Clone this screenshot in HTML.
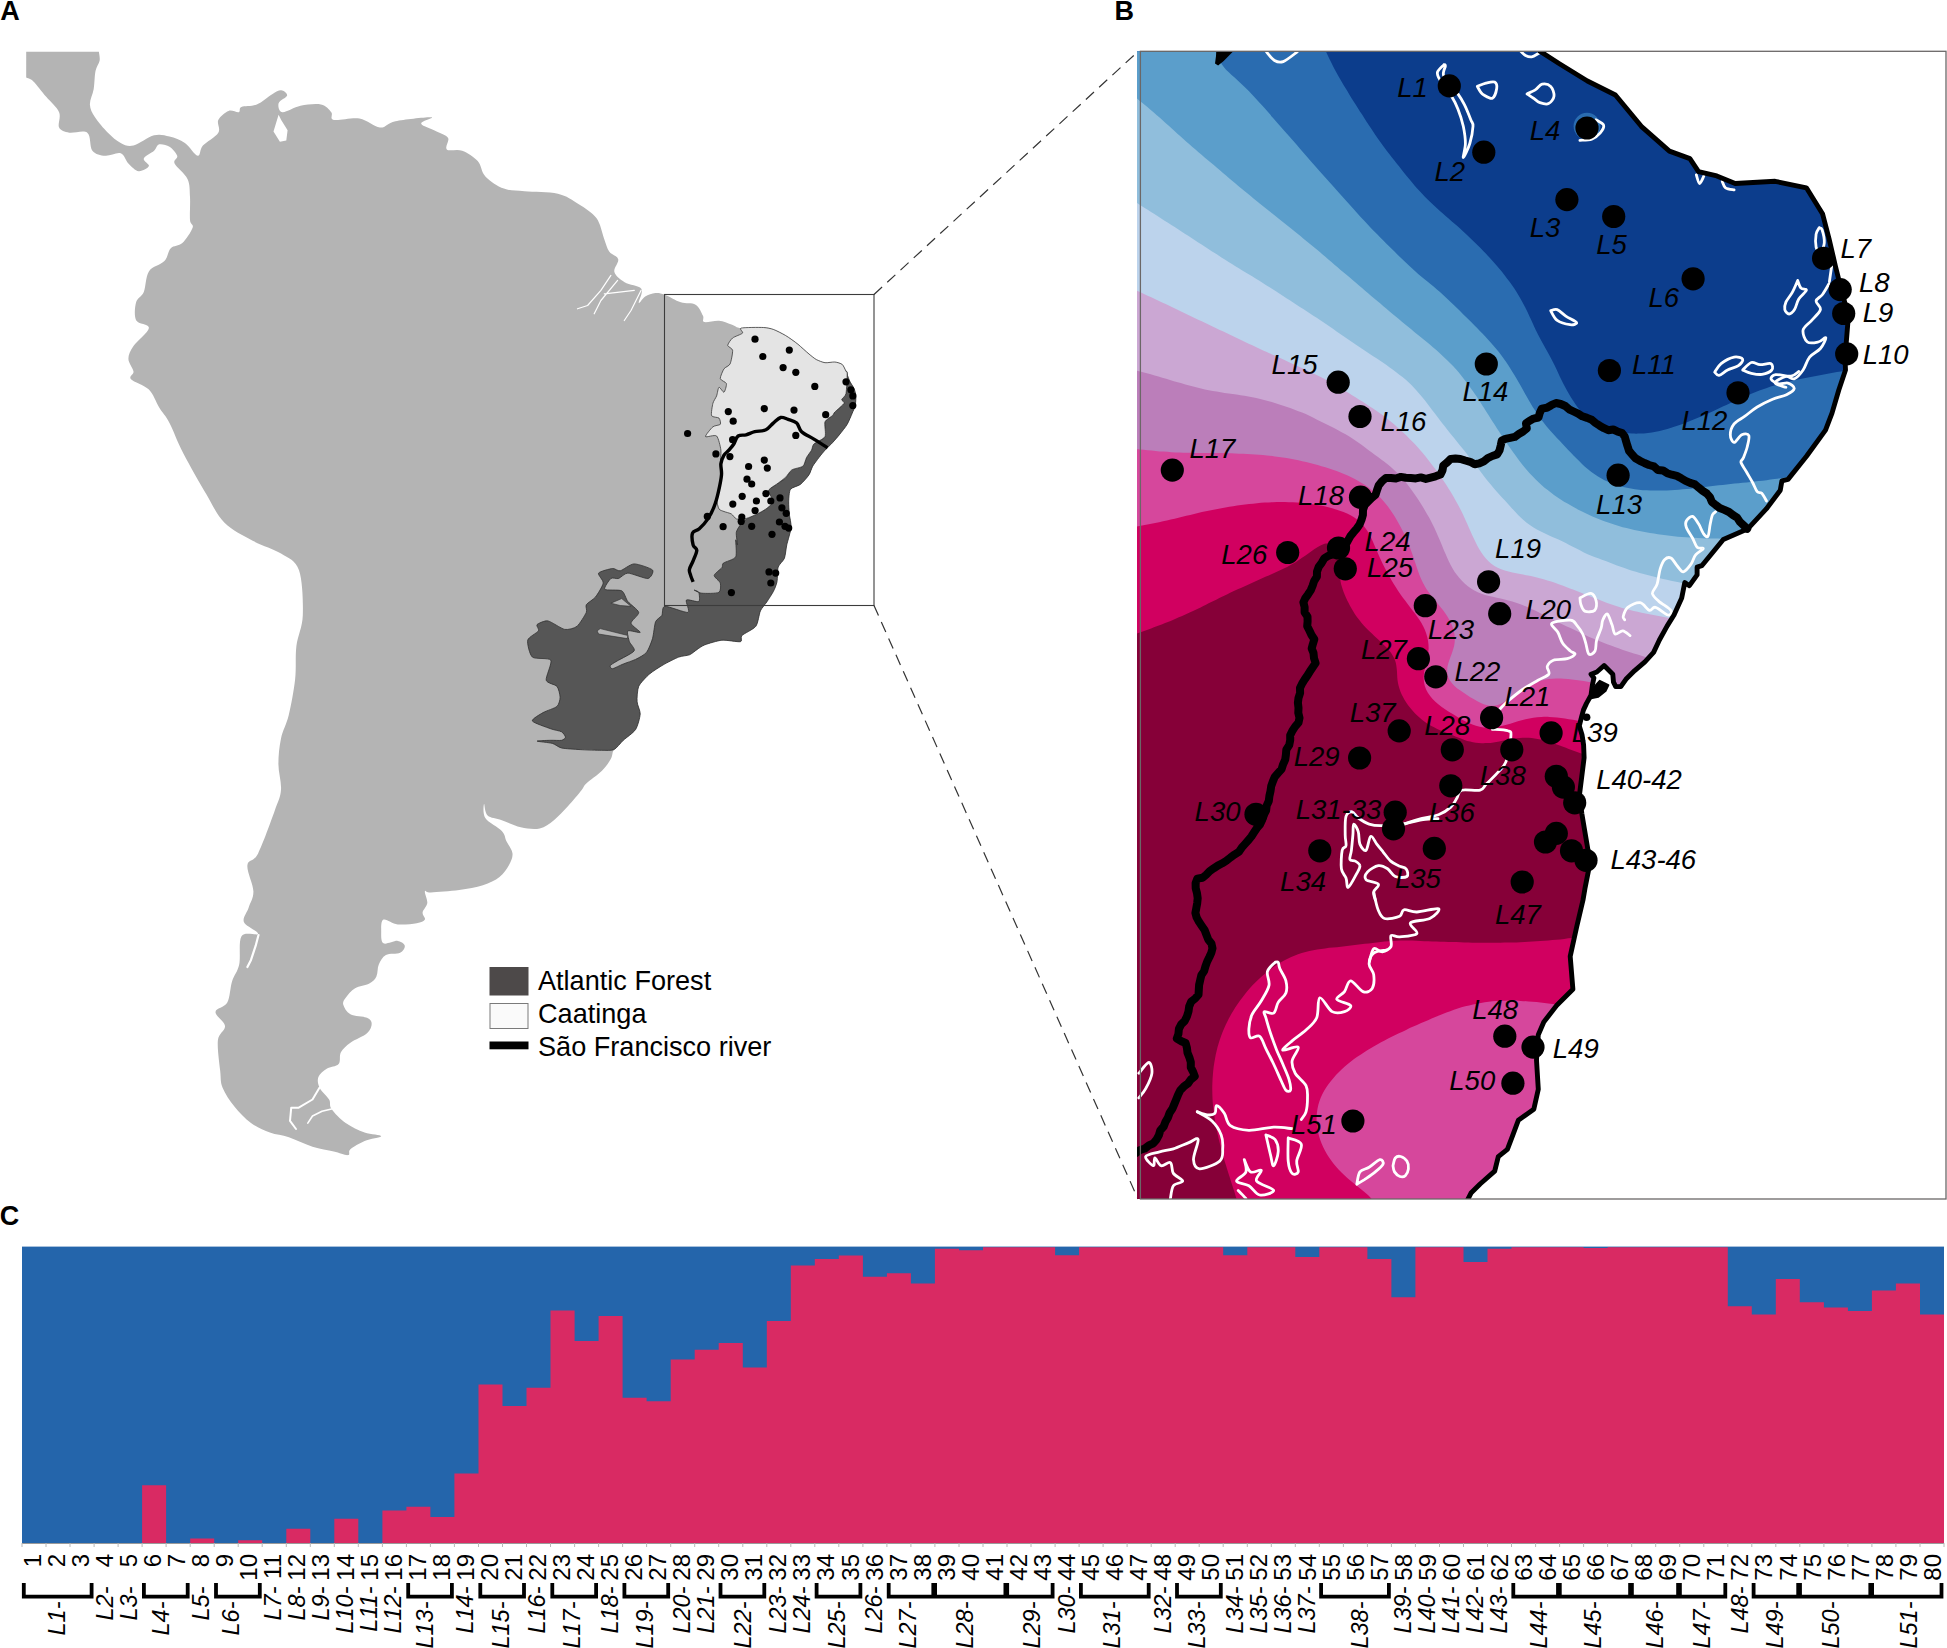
<!DOCTYPE html>
<html lang="en"><head><meta charset="utf-8"><title>Figure</title>
<style>html,body{margin:0;padding:0;background:#fff}body{width:1947px;height:1648px;overflow:hidden}svg{display:block}
text{font-family:"Liberation Sans",Arial,sans-serif;fill:#000}.it{font-style:italic}.b{font-weight:bold}</style></head><body>
<svg width="1947" height="1648" viewBox="0 0 1947 1648">
<rect width="1947" height="1648" fill="#fff"/>
<g id="panelA">
<path d="M98.9 51.8 C99 53.3 100.2 57.6 99.6 60.8 C99 64 96.5 66.4 95.5 71.1 C94.5 75.8 94.6 83.5 93.7 89.1 C92.8 94.7 89.7 99.8 89.9 104.5 C90.1 109.2 92 112.6 95 117.3 C98 122 103.6 128.4 107.9 132.7 C112.2 137 116.4 140.8 120.7 143 C125 145.2 127.9 146.9 133.5 145.6 C139.1 144.3 148.1 136.8 154.1 135.3 C160.1 133.8 164.4 135.3 169.5 136.6 C174.6 137.9 180.2 139.8 184.9 143 C189.6 146.2 194.7 155.4 197.7 155.8 C200.7 156.2 199.5 149.4 202.9 145.6 C206.3 141.8 215.7 137 218.3 132.7 C220.9 128.4 216.6 123.5 218.3 119.9 C220 116.3 225.2 112.2 228.6 110.9 C232 109.6 236.7 112.9 238.8 112.2 C240.9 111.5 238.4 108.3 241.4 107 C244.4 105.7 251.7 106.6 256.8 104.5 C261.9 102.4 268.1 96.6 272.2 94.2 C276.3 91.8 278.7 90.1 281.2 90.3 C283.7 90.5 287.5 93.3 287.1 95.5 C286.7 97.7 279.4 100.4 278.6 103.2 C277.8 106 278.9 111.8 282.5 112.2 C286.1 112.6 294.1 107.1 300.5 105.8 C306.9 104.5 315.9 103.4 321 104.5 C326.1 105.6 329.2 109.6 331.3 112.2 C333.4 114.8 329.1 118.8 333.8 119.9 C338.5 121 351.8 117.3 359.5 118.6 C367.2 119.9 374 127.2 380 127.6 C386 128 386.9 122.9 395.5 121.2 C404.1 119.5 427.1 116.9 431.4 117.3 C435.7 117.7 420.3 121.3 421.2 123.7 C422.1 126.1 432.1 129 436.6 131.4 C441.1 133.8 446.4 134.9 448.1 137.9 C449.8 140.9 444.5 147.3 446.8 149.4 C449.1 151.5 457.1 148.8 462.2 150.7 C467.3 152.6 473.8 156.7 477.7 161 C481.6 165.3 481 171.8 485.4 176.4 C489.8 181 497.4 186.1 503.9 188.6 C510.4 191.1 515.5 190.3 524.5 191.2 C533.5 192 548.9 191.6 557.9 193.7 C566.9 195.8 572 199.9 578.4 204 C584.8 208.1 592.1 212.3 596.4 218.1 C600.7 223.9 602 233.1 604.1 238.7 C606.2 244.3 606.9 248.1 609.2 251.5 C611.6 254.9 617.3 255.8 618.2 259.2 C619.1 262.6 613.3 268.2 614.4 272.1 C615.5 276 620.1 279.5 624.6 282.3 C629.1 285.1 638.9 285.4 641.3 288.8 C643.7 292.2 638.1 301.6 638.8 302.9 C639.4 304.2 642.4 298.1 645.2 296.5 C648 294.9 652.1 293.4 655.4 293.1 C658.6 292.8 660.5 293.2 664.7 294.7 C668.9 296.2 675.6 300.6 680.8 302.3 C685.9 304 691.9 302.4 695.6 304.7 C699.3 306.9 701.6 312.9 703 315.8 C704.4 318.7 701.5 321.2 704.2 322 C706.9 322.8 714.5 320.3 719 320.7 C723.5 321.1 727.7 323.2 731.4 324.4 C735.1 325.6 735.9 327.6 741.2 328.1 C746.5 328.6 758 327.3 763.4 327.5 C768.8 327.7 769.6 328.1 773.3 329.4 C777 330.7 781.5 333 785.6 335.5 C789.7 338 794 341.1 797.9 344.2 C801.8 347.3 805.9 351.4 809 354 C812.1 356.6 813.7 358.2 816.4 359.6 C819.1 361.1 821.9 362.3 825 362.7 C828.1 363.1 832 361.7 834.9 362 C837.8 362.3 840.4 362.9 842.3 364.5 C844.1 366.1 844.8 368.5 846 371.3 C847.2 374.1 848.4 378.2 849.7 381.1 C851 384 853 386 854 388.5 C855 391 855.7 393 855.9 395.9 C856.1 398.8 855.8 402.9 855.2 405.8 C854.6 408.7 853.5 410.1 852.2 413.2 C850.9 416.3 849.3 420.8 847.2 424.3 C845.1 427.8 842.3 431.1 839.8 434.2 C837.3 437.3 834.9 440.1 832.4 442.8 C829.9 445.5 827.2 447.7 825 450.2 C822.8 452.7 820.9 454.9 818.9 457.6 C816.9 460.3 814.4 463.3 812.7 466.2 C811.1 469.1 811 471.8 809 474.8 C807 477.8 803.5 482 800.4 484.4 C797.3 486.8 792.5 486.4 790.5 489.3 C788.5 492.2 788.9 497.5 788.7 501.6 C788.5 505.7 788.9 509.7 789.3 514 C789.7 518.3 791.5 522.4 791.1 527.5 C790.7 532.6 787.9 539.7 786.8 544.8 C785.7 549.9 785.8 554.6 784.4 558.3 C783 562 779.4 563.1 778.2 567 C777 570.9 777.8 577.7 777 581.8 C776.2 585.9 774.9 588.3 773.3 591.6 C771.6 594.9 769.2 598.3 767.1 601.5 C765 604.7 762.3 606.8 760.4 610.9 C758.5 615 758.9 622.2 755.8 626.3 C752.7 630.4 744.5 632.9 741.9 635.5 C739.3 638.1 743.7 640.9 740.4 641.7 C737.1 642.5 727.8 639.7 721.9 640.2 C716 640.7 709 643.3 704.9 644.8 C700.8 646.3 699.8 647.7 697.2 649.4 C694.6 651.1 692.6 653.5 689.5 654.8 C686.4 656.1 683.1 655.4 678.7 657.1 C674.3 658.8 668.2 662 663.3 664.8 C658.4 667.6 653.6 670.4 649.5 674 C645.4 677.6 640.8 681.8 638.7 686.4 C636.6 691 636.9 697.2 637.1 701.8 C637.4 706.4 640.5 709.5 640.2 714.1 C640 718.7 638.4 725.1 635.6 729.5 C632.8 733.9 626.9 736.9 623.3 740.3 C619.7 743.6 616.1 746.5 614 749.6 C611.9 752.7 612.9 755.2 610.9 758.8 C608.9 762.4 605.8 767 601.7 771.1 C597.6 775.2 589.6 780.4 586.3 783.5 C583 786.6 584.7 786.2 581.7 790 C578.7 793.8 572.7 801 568.1 806 C563.5 811 558.6 816.5 553.9 820.2 C549.2 824 545.2 827.3 539.7 828.5 C534.2 829.7 527.1 828.7 520.8 827.3 C514.5 825.9 507.3 822.2 501.8 820.2 C496.3 818.2 490.6 818.2 487.6 815.5 C484.7 812.8 484.5 803.3 484.1 803.7 C483.7 804.1 482.4 813.4 485.3 817.9 C488.2 822.4 498.2 827 501.8 830.9 C505.4 834.8 504.8 837.8 506.6 841.5 C508.4 845.2 512.1 849.4 512.5 853.4 C512.9 857.4 511.1 861.3 508.9 865.2 C506.7 869.1 503.8 873.6 499.5 877 C495.2 880.4 489.6 883.1 482.9 885.3 C476.2 887.5 467.9 888.8 459.2 890 C450.5 891.2 436.6 892.2 430.9 892.4 C425.2 892.6 425.5 889.4 424.9 891.2 C424.3 893 427.7 899.6 427.3 903.1 C426.9 906.6 423 909.8 422.6 912.5 C422.2 915.2 425.9 917.8 424.9 919.6 C423.9 921.4 421.2 922.4 416.7 923.2 C412.2 924 403.2 925 397.7 924.4 C392.2 923.8 386.2 918.4 383.5 919.6 C380.8 920.8 381.2 927.5 381.2 931.5 C381.2 935.5 380.8 941.7 383.5 943.3 C386.2 944.9 394.1 940.5 397.7 940.9 C401.2 941.3 404.4 943.7 404.8 945.7 C405.2 947.7 403.2 951.2 400.1 952.8 C397 954.4 389.4 953.1 385.9 955.1 C382.3 957.1 380.4 961.1 378.8 964.6 C377.2 968.1 378 973.2 376.4 976.4 C374.8 979.5 372.9 981.5 369.3 983.5 C365.8 985.5 359 985.9 355.1 988.3 C351.2 990.7 347.7 995 345.7 997.7 C343.7 1000.5 342.5 1002 343.3 1004.8 C344.1 1007.6 346.4 1012.1 350.4 1014.3 C354.3 1016.5 363.4 1016.2 367 1017.8 C370.6 1019.4 371.7 1021.2 371.7 1023.8 C371.7 1026.4 370.6 1030 367 1033.2 C363.4 1036.4 354.8 1039.5 350.4 1042.7 C346 1045.9 342.9 1048.7 340.9 1052.2 C338.9 1055.8 341 1061.2 338.6 1064 C336.2 1066.8 330.1 1066.5 326.7 1068.7 C323.3 1070.9 319.6 1073.8 318.4 1077 C317.2 1080.2 317.8 1084 319.6 1087.7 C321.4 1091.5 327.1 1096 329.1 1099.5 C331.1 1103 328.7 1105.1 331.5 1109 C334.3 1112.9 340.2 1119.2 345.7 1123.1 C351.2 1127 358.7 1130.4 364.6 1132.6 C370.5 1134.8 381.2 1134.8 381.2 1136.2 C381.2 1137.6 369.7 1138.7 364.6 1140.9 C359.5 1143.1 353.2 1146.8 350.4 1149.2 C347.6 1151.6 350.8 1154.7 348 1155.1 C345.2 1155.5 339.7 1152.9 333.8 1151.5 C327.9 1150.1 320 1149.2 312.5 1146.8 C305 1144.4 296 1139.7 288.9 1137.3 C281.8 1134.9 276.2 1135 269.9 1132.6 C263.6 1130.2 256.9 1127.4 251 1123.1 C245.1 1118.8 239.1 1112.5 234.4 1106.6 C229.7 1100.7 225 1093.6 222.6 1087.7 C220.2 1081.8 221 1079 220.2 1071.1 C219.4 1063.2 217.1 1047.8 217.9 1040.3 C218.7 1032.8 225.4 1030.8 225 1026.1 C224.6 1021.4 215.1 1015.8 215.5 1011.9 C215.9 1008 224.5 1007.6 227.3 1002.5 C230.1 997.4 230.1 987.5 232.1 981.2 C234.1 974.9 237.6 972.1 239.2 964.6 C240.8 957.1 238.3 941.3 241.5 936.2 C244.7 931.1 257.7 936.2 258.1 933.8 C258.5 931.4 245.5 926.3 243.9 922 C242.3 917.7 247 912.9 248.6 907.8 C250.2 902.7 253.6 898.3 253.4 891.2 C253.2 884.1 246.6 871.5 247.4 865.2 C248.2 858.9 253.6 862.5 258.1 853.4 C262.7 844.3 270.9 821.4 274.7 810.8 C278.5 800.2 280.4 797.6 281 789.8 C281.6 782 278.4 772.7 278.4 764.1 C278.4 755.5 279.3 746.5 281 738.4 C282.7 730.3 286.3 725.1 288.7 715.3 C291.1 705.5 293.8 690.9 295.1 679.4 C296.4 667.9 295.1 656.7 296.4 646 C297.7 635.3 302.4 627.8 302.8 615.2 C303.2 602.6 302.6 580.5 299 570.2 C295.4 559.9 288.7 558.4 281 553.5 C273.3 548.6 262.1 545.8 252.7 540.7 C243.3 535.6 232.2 530.4 224.5 522.7 C216.8 515 213.3 506.1 206.5 494.5 C199.7 482.9 189.6 465.3 183.4 453.4 C177.2 441.5 173.5 430.5 169.5 422.9 C165.5 415.2 162.6 413.1 159.2 407.5 C155.8 401.9 153.6 394.2 148.9 389.5 C144.2 384.8 133.6 382.2 131 379.2 C128.4 376.2 133.9 374.9 133.5 371.5 C133.1 368.1 128.4 363 128.4 358.7 C128.4 354.4 130.1 351 133.5 345.9 C136.9 340.8 148.5 332.2 148.9 327.9 C149.3 323.6 138.2 324.5 136.1 320.2 C134 315.9 134.8 306.9 136.1 302.2 C137.4 297.5 141.7 297 143.8 291.9 C145.9 286.8 145.5 276.5 148.9 271.4 C152.3 266.3 160.8 265 164.4 261.1 C168.1 257.2 167.8 251.3 170.8 248.3 C173.8 245.3 178.7 246.5 182.3 243.1 C185.9 239.7 191.3 231.5 192.6 227.7 C193.9 223.8 190.4 225.1 190 220 C189.6 214.9 190.4 203.8 190 196.9 C189.6 190.1 190.1 184.5 187.5 178.9 C184.9 173.3 176.3 167.3 174.6 163.5 C172.9 159.7 178 158.6 177.2 155.8 C176.3 153 172.5 148.7 169.5 146.8 C166.5 144.9 161.8 143.7 159.2 144.3 C156.6 145 156.7 148.3 154.1 150.7 C151.5 153 144.7 155.8 143.8 158.4 C142.9 161 149.8 164 148.9 166.1 C148.1 168.2 142.1 171.6 138.7 171.2 C135.3 170.8 131.4 166.5 128.4 163.5 C125.4 160.5 124.6 154.6 120.7 153.3 C116.8 152 110 156.2 105.3 155.8 C100.6 155.4 95.4 154.5 92.4 150.7 C89.4 146.8 91.2 135.7 87.3 132.7 C83.4 129.7 74 133.5 69.3 132.7 C64.6 131.8 60.8 131 59.1 127.6 C57.4 124.2 61.2 117.3 59.1 112.2 C57 107.1 50.5 101.9 46.2 96.8 C41.9 91.7 36.7 84.6 33.4 81.4 C30.1 78.2 27.4 78.2 26.2 77.5 L26.2 51.8Z" fill="#b4b4b4"/>
<path d="M278.6 114.7 L273.5 131.4 L279.9 141.7 L286.3 140.4 L287.6 130.2 L281.2 119.9Z" fill="#fff"/>
<g fill="none" stroke="#fff" stroke-linecap="round" stroke-linejoin="round"><path d="M319.6 1087.6 L312.5 1099.5 L298.3 1107.8 L291.2 1107.8 L290 1120.8 L296 1129" stroke-width="2"/><path d="M331.5 1109 L322 1111.3 L312.5 1116 L307.8 1123.1" stroke-width="1.6"/><path d="M258.5 935 L255.7 945.7 L251 959.9 L247.4 967" stroke-width="2.2"/><path d="M610.9 275.4 L600.9 290.4 L587.6 305.5 L577.5 308.8 M617.6 280.4 L600.9 300.5 L594.2 313.8 M641 290.4 L631 310.5 L624.3 320.5 M604.3 293.8 L634.3 290.4" stroke-width="1.2"/></g>
<path d="M846 371.3 C846.3 372.2 848.8 379.1 849.7 381.1 C850.6 383.1 853.3 386.8 854 388.5 C854.7 390.2 855.8 393.9 855.9 395.9 C856 397.9 855.6 403.8 855.2 405.8 C854.8 407.8 853.1 411 852.2 413.2 C851.3 415.4 848.6 421.9 847.2 424.3 C845.8 426.8 841.5 432 839.8 434.2 C838.1 436.4 834.1 440.9 832.4 442.8 C830.7 444.7 826.6 448.5 825 450.2 C823.4 451.9 820.3 455.7 818.9 457.6 C817.5 459.5 813.9 464.2 812.7 466.2 C811.5 468.2 810.4 472.7 809 474.8 C807.6 476.9 802.6 482.7 800.4 484.4 C798.2 486.1 791.9 487.3 790.5 489.3 C789.1 491.3 788.8 498.7 788.7 501.6 C788.6 504.5 789 511 789.3 514 C789.6 517 791.4 523.9 791.1 527.5 C790.8 531.1 787.6 541.2 786.8 544.8 C786 548.4 785.4 555.7 784.4 558.3 C783.4 560.9 779.1 564.3 778.2 567 C777.3 569.7 777.6 578.9 777 581.8 C776.4 584.7 774.5 589.3 773.3 591.6 C772.1 593.9 768.6 599.2 767.1 601.5 C765.6 603.8 761.7 608 760.4 610.9 C759.1 613.8 758 623.4 755.8 626.3 C753.6 629.2 743.7 633.7 741.9 635.5 C740.1 637.3 742.7 641.2 740.4 641.7 C738.1 642.2 726 639.8 721.9 640.2 C717.8 640.6 707.8 643.7 704.9 644.8 C702 645.9 699 648.2 697.2 649.4 C695.4 650.6 691.7 653.9 689.5 654.8 C687.3 655.7 681.8 655.9 678.7 657.1 C675.6 658.3 666.7 662.8 663.3 664.8 C659.9 666.8 652.4 671.5 649.5 674 C646.6 676.5 640.1 683.2 638.7 686.4 C637.3 689.6 636.9 698.6 637.1 701.8 C637.3 705 640.4 710.9 640.2 714.1 C640 717.3 637.6 726.4 635.6 729.5 C633.6 732.6 625.8 738 623.3 740.3 C620.8 742.6 616.5 748.4 614 749.6 C611.5 750.8 605.7 750.3 601.7 750.3 C597.7 750.3 584.8 749.9 580.1 749.6 C575.4 749.3 564.8 748.7 561.6 748 C558.4 747.3 555.3 744.2 552.4 743.4 C549.5 742.6 537.2 741.5 537 741.1 C536.8 740.7 547.9 740.4 550.8 740.3 C553.7 740.2 559.9 740.7 561.6 740.3 C563.3 739.9 565.5 738.2 565.5 737.2 C565.5 736.2 563.3 732.8 561.6 731.8 C559.9 730.8 554.2 730.1 550.8 728.8 C547.4 727.5 533.3 722.9 532.4 721 C531.5 719.1 540.2 714.3 543.1 712.6 C546 710.9 555 708.2 557 706.4 C559 704.6 560.1 699.5 560.1 697.2 C560.1 694.9 558.6 688.4 557 686.4 C555.4 684.4 546.9 683.3 546.2 680.2 C545.5 677.1 552.4 662.9 550.8 660.2 C549.2 657.5 535.1 659.4 532.4 657.1 C529.7 654.8 527 643.3 527.7 640.2 C528.4 637.1 537.4 632.7 538.5 630.9 C539.6 629.1 535.9 625.9 537 624.7 C538.1 623.5 544.6 620.4 547.8 620.9 C551 621.4 561.3 628.8 564.7 629.4 C568.1 630 574.5 628.3 577 626.3 C579.5 624.3 585.2 614.9 586.3 612.4 C587.4 609.9 585.2 606.5 586.3 604.7 C587.4 602.9 593.5 599.5 595.5 597 C597.5 594.5 602.8 585.9 603.2 583.1 C603.6 580.3 597.5 574.8 598.6 573.1 C599.7 571.4 610 568.8 612.5 568.5 C615 568.2 617.7 571.3 620.2 570.8 C622.7 570.3 630.3 564 634.1 563.9 C637.9 563.8 650.9 568.3 652.5 570 C654.1 571.7 650.8 578.1 647.9 578.5 C645 578.9 631.3 573.1 627.9 573.1 C624.5 573.1 620.6 577.9 618.6 578.5 C616.6 579.1 612.5 577.2 610.9 578.5 C609.3 579.8 603.5 587.9 604.8 589.3 C606.1 590.7 619 589.4 621.7 590.8 C624.4 592.2 625.9 599.1 627.9 601.6 C629.9 604.1 638.3 609.9 638.7 612.4 C639.1 614.9 630.8 620.9 631 623.2 C631.2 625.5 640.6 631.5 640.2 632.4 C639.8 633.3 629.2 629.8 627.9 630.9 C626.6 632 628.7 639.4 629.4 641.7 C630.1 644 635.5 648.6 634.1 650.9 C632.7 653.2 619.9 659.3 617.1 661 C614.3 662.7 610.7 664.7 610.2 665.6 C609.7 666.5 611 668.9 612.5 668.7 C614 668.5 620.6 665.1 623.3 664 C626 662.9 632.9 660.7 635.6 659.4 C638.3 658.1 644.4 654.9 646.4 652.5 C648.4 650.1 651.4 642.2 652.5 638.6 C653.6 635 654.5 624.4 655.6 621.7 C656.7 619 660.7 617.3 661.8 615.5 C662.9 613.7 661.8 606.7 664.9 606.3 C668 605.9 685.5 613.1 688 612.4 C690.5 611.7 685.1 601.4 686.4 600.1 C687.7 598.8 697.4 602.5 698.8 601.6 C700.2 600.7 699.3 593.7 698.8 592.4 C698.3 591.1 693.8 590 694.1 590.1 C694.5 590.2 698.9 592.9 701.8 593.2 C704.7 593.5 716.6 593.6 718.8 592.4 C721 591.2 720.8 585.1 720.3 583.1 C719.8 581.1 714 577.2 714.2 575.4 C714.4 573.6 720.8 569.1 721.9 567.7 C723 566.3 721.8 564.4 723.4 563.1 C725 561.8 734.3 559.6 735.7 556.9 C737.1 554.2 735.5 541.4 735.7 540 C735.9 538.6 737.4 545.7 737.5 544.8 C737.6 543.9 735.9 534.9 736.3 532.4 C736.7 529.9 739.8 525.5 741.2 523.8 C742.6 522.1 746.7 518.8 748.6 517.7 C750.5 516.6 755.2 515 757.2 514 C759.2 513 764 510.4 765.9 509 C767.8 507.6 773 503.6 773.3 501.6 C773.6 499.6 768.6 493.4 768.3 491.8 C768 490.2 769.6 489.1 770.8 488.1 C772 487.1 776.5 484.3 778.2 483.1 C779.9 481.9 784 479.7 785.6 478.2 C787.2 476.7 789.8 471.3 791.8 469.9 C793.8 468.5 801.2 467.6 802.9 466.2 C804.6 464.8 805.5 459.5 806.5 457.6 C807.5 455.7 810.6 451.8 811.5 450.2 C812.4 448.6 812.3 445.6 813.9 444 C815.5 442.4 823.7 439.2 825 436.6 C826.3 434 824.1 424.2 825 421.8 C825.9 419.4 831.2 416.8 832.4 415.7 C833.6 414.6 833.5 413.4 834.9 412 C836.3 410.6 843.3 404.7 844.1 403.3 C844.9 401.9 841.5 400.7 841.7 399.6 C841.9 398.5 845.4 396.5 846 393.5 C846.6 390.5 847.2 376.4 847.2 373.8 C847.2 371.2 845.7 370.4 846 371.3Z" fill="#565656" stroke="#2e2e2e" stroke-width="0.8" stroke-linejoin="round"/>
<path d="M610.9 603.2 L621.7 598.6 L631 606.3 L620.2 605.5Z" fill="#b4b4b4" stroke="#2e2e2e" stroke-width="0.6"/>
<path d="M597.1 630.9 L600.2 628.6 L627.9 635.5 L627.1 638.6 L598.6 634Z" fill="#b4b4b4" stroke="#2e2e2e" stroke-width="0.6"/>
<path d="M741.2 328.1 C743.6 327.4 759.7 327.3 763.4 327.5 C767.1 327.7 770.7 328.5 773.3 329.4 C775.9 330.3 782.7 333.8 785.6 335.5 C788.5 337.2 795.2 342 797.9 344.2 C800.6 346.4 806.8 352.2 809 354 C811.2 355.8 814.5 358.6 816.4 359.6 C818.3 360.6 822.8 362.4 825 362.7 C827.2 363 832.9 361.8 834.9 362 C836.9 362.2 841 363.4 842.3 364.5 C843.6 365.6 845.4 370.2 846 371.3 C846.6 372.4 847.2 371.2 847.2 373.8 C847.2 376.4 846.6 390.5 846 393.5 C845.4 396.5 841.9 398.5 841.7 399.6 C841.5 400.7 844.9 401.9 844.1 403.3 C843.3 404.7 836.3 410.6 834.9 412 C833.5 413.4 833.6 414.6 832.4 415.7 C831.2 416.8 825.9 419.4 825 421.8 C824.1 424.2 826.3 434 825 436.6 C823.7 439.2 815.5 442.4 813.9 444 C812.3 445.6 812.4 448.6 811.5 450.2 C810.6 451.8 807.5 455.7 806.5 457.6 C805.5 459.5 804.6 464.8 802.9 466.2 C801.2 467.6 793.8 468.6 791.8 469.9 C789.8 471.2 787.2 475.8 785.6 477.3 C784 478.8 779.9 481.8 778.2 483.1 C776.5 484.4 772 487.1 770.8 488.1 C769.6 489.1 768 490.2 768.3 491.8 C768.6 493.4 773.6 499.6 773.3 501.6 C773 503.6 767.8 507.6 765.9 509 C764 510.4 759.2 513 757.2 514 C755.2 515 750.2 517.1 748.6 517.7 C747 518.3 745.1 518.8 743.7 518.9 C742.3 519 737.7 519.5 736.3 518.9 C734.9 518.3 732.8 514.9 731.4 514 C730 513.1 725.4 512.1 724 511.5 C722.6 510.9 719.9 510.4 719 509 C718.1 507.6 716.6 501.2 716.6 499.2 C716.6 497.2 718.4 494.2 719 491.8 C719.6 489.4 721.3 481.4 721.5 478.2 C721.7 475 720.4 468 720.3 464.7 C720.2 461.4 721.3 453.5 720.9 450.2 C720.5 446.9 718.4 437.6 716.6 436 C714.8 434.4 705.9 437.7 705.5 436.6 C705.1 435.5 711.2 428.2 712.9 426.8 C714.6 425.4 719.6 425.3 720.3 424.3 C721 423.3 720 419.1 719 418.1 C718 417.1 712.3 417.4 711.6 415.7 C710.9 414 712.3 405.6 712.9 403.3 C713.5 401 715.9 397.8 716.6 395.9 C717.3 394 718.1 387.7 719 387.3 C719.9 386.9 723.1 392.6 724 392.2 C724.9 391.8 726.8 385.2 726.4 383.6 C726 382 720.6 380.4 720.3 378.7 C720 377 722.9 370.5 724 368.8 C725.1 367.1 729.1 366.1 730.1 363.9 C731.1 361.7 732.9 352.5 732.6 350.3 C732.3 348.1 727.7 346.8 727.7 345.4 C727.7 344 730.9 339.4 732.6 338 C734.3 336.6 741.5 334.3 742.5 333.1 C743.5 331.9 738.8 328.8 741.2 328.1Z" fill="#e4e4e4" stroke="#3a3a3a" stroke-width="0.8" stroke-linejoin="round"/>
<path d="M827.5 447.7 C825.2 446.3 818.2 441.8 813.9 439.1 C809.6 436.4 804.5 434.4 801.6 431.7 C798.7 429 799 425.2 796.7 423.1 C794.5 421.1 790.8 420.3 788.1 419.4 C785.4 418.5 783.2 416.9 780.7 417.5 C778.2 418.1 775.8 421.1 773.3 423.1 C770.8 425.2 769 428.4 765.9 429.8 C762.8 431.2 758.1 430.9 754.8 431.7 C751.5 432.5 748.9 434.1 746.1 434.8 C743.3 435.5 740.2 434.5 738.1 436 C736 437.5 735.3 441.6 733.8 444 C732.3 446.4 730.5 448.3 728.9 450.2 C727.3 452.1 725.3 452.9 724 455.1 C722.7 457.4 721.3 460.4 720.9 463.7 C720.5 467 721.9 470.1 721.5 474.8 C721.1 479.5 719.6 486.5 718.4 491.8 C717.2 497.1 715.9 502.1 714.1 506.6 C712.4 511.1 710.4 515.2 707.9 518.9 C705.4 522.6 701.9 526.4 699.3 528.8 C696.7 531.2 693.5 530.4 692.5 533.1 C691.5 535.8 692.4 541.9 693.1 544.8 C693.8 547.7 696.8 547.6 696.8 550.3 C696.8 553 694.3 557.6 693.1 560.8 C691.9 564 689.8 566.9 689.4 569.4 C689 571.9 690.1 573.5 690.7 575.6 C691.3 577.7 692.7 580.8 693.1 581.8" fill="none" stroke="#000" stroke-width="3.4" stroke-linejoin="round" stroke-linecap="butt"/>
<g fill="#000"><circle cx="755" cy="339.2" r="3.6"/><circle cx="762.8" cy="356.5" r="3.6"/><circle cx="789.3" cy="350.1" r="3.6"/><circle cx="783.1" cy="367.6" r="3.6"/><circle cx="795.8" cy="372.3" r="3.6"/><circle cx="814.8" cy="386.4" r="3.6"/><circle cx="846" cy="381.8" r="3.6"/><circle cx="850.9" cy="389.8" r="3.6"/><circle cx="852.8" cy="395.9" r="3.6"/><circle cx="852.8" cy="405.6" r="3.6"/><circle cx="794" cy="410.1" r="3.6"/><circle cx="825.7" cy="414.7" r="3.6"/><circle cx="795.8" cy="435.4" r="3.6"/><circle cx="764.3" cy="408.6" r="3.6"/><circle cx="728.3" cy="411.6" r="3.6"/><circle cx="733.2" cy="421.2" r="3.6"/><circle cx="687.6" cy="433.5" r="3.6"/><circle cx="732.6" cy="439.7" r="3.6"/><circle cx="715.9" cy="453.9" r="3.6"/><circle cx="729.9" cy="456.6" r="3.6"/><circle cx="764.3" cy="460.1" r="3.6"/><circle cx="767.3" cy="468.1" r="3.6"/><circle cx="748.6" cy="466.5" r="3.6"/><circle cx="747" cy="479.2" r="3.6"/><circle cx="751.7" cy="484" r="3.6"/><circle cx="765.9" cy="493.6" r="3.6"/><circle cx="742.2" cy="496.3" r="3.6"/><circle cx="756.4" cy="501" r="3.6"/><circle cx="770.8" cy="501" r="3.6"/><circle cx="780" cy="497.9" r="3.6"/><circle cx="732.8" cy="504.1" r="3.6"/><circle cx="755.1" cy="510.6" r="3.6"/><circle cx="781.9" cy="507.8" r="3.6"/><circle cx="786.2" cy="513.3" r="3.6"/><circle cx="707.3" cy="516.4" r="3.6"/><circle cx="741.8" cy="517" r="3.6"/><circle cx="741.2" cy="521.4" r="3.6"/><circle cx="723.1" cy="526.7" r="3.6"/><circle cx="751.7" cy="526.3" r="3.6"/><circle cx="779.4" cy="522" r="3.6"/><circle cx="785" cy="526.3" r="3.6"/><circle cx="788.7" cy="528.1" r="3.6"/><circle cx="772" cy="534.3" r="3.6"/><circle cx="769" cy="571.9" r="3.6"/><circle cx="775.7" cy="573.1" r="3.6"/><circle cx="770.8" cy="583" r="3.6"/><circle cx="731.4" cy="592.6" r="3.6"/></g>
<rect x="664.5" y="294.5" width="209.5" height="311" fill="none" stroke="#3c3c3c" stroke-width="1.1"/>
<path d="M874 294.5 L1138 51.5 M874 605.5 L1138 1199" stroke="#333" stroke-width="1.2" stroke-dasharray="11 7" fill="none"/>
<rect x="489.5" y="967" width="39" height="28.5" fill="#4d4949"/>
<rect x="490" y="1003.5" width="38" height="25" fill="#fafafa" stroke="#7a7a7a" stroke-width="1"/>
<rect x="489.5" y="1041.5" width="39" height="7.8" fill="#000"/>
<text x="538" y="990" font-size="27.1">Atlantic Forest</text>
<text x="538" y="1022.5" font-size="27.1">Caatinga</text>
<text x="538" y="1056" font-size="27.1">São Francisco river</text>
</g>
<defs><clipPath id="land"><path d="M1137 51.3 L1539.9 48.6 L1539.9 51.2 L1559.4 63.7 L1587.4 81 L1615.4 95 L1641.3 126.3 L1669.4 151.1 L1689.9 158.6 L1698.5 171.6 L1716.8 175.9 L1735.2 183.5 L1775.1 181.3 L1806.4 187.8 L1822.5 213.7 L1829 238.5 L1835.5 266.5 L1840.9 288.1 L1848.4 316.1 L1846.3 342 L1845.2 363.6 L1845.5 370 L1838.8 390 L1832 413.1 L1825.5 430.1 L1806.5 456.3 L1788 479.4 L1781.9 480.9 L1780.3 490.2 L1766.5 508.7 L1748 528.7 L1723.3 539.5 L1701.8 565.7 L1697.1 567.2 L1697.1 574.9 L1689.4 585.7 L1684.8 582.6 L1681.7 598 L1674 615 L1667.2 625.9 L1659.4 640 L1653.6 652.4 L1644.9 661.8 L1634.7 670.6 L1625.9 679.3 L1620.8 686.6 L1615.7 686.6 L1613.5 682.2 L1612.8 674.2 L1604.1 665.5 L1596.8 672 L1591 674.2 L1593.9 677.9 L1592.4 685.1 L1591 695.3 L1586.5 703.4 L1583.5 709.9 L1581.5 717.2 L1579.3 725.9 L1582 734.7 L1583.6 745 L1584.1 757.8 L1581.8 776.3 L1579.5 794.8 L1581.8 813.3 L1584.9 831.8 L1588 850.2 L1589.5 865.6 L1584.9 888.8 L1583 900 L1576.6 927.3 L1570.2 956.4 L1572.9 989.2 L1556.6 1005.6 L1543.8 1022 L1538.3 1034.7 L1536.5 1060.2 L1538.3 1089.3 L1533.8 1109.3 L1518.3 1120.3 L1512.9 1134.8 L1507.4 1149.4 L1498.3 1156.7 L1494.7 1171.2 L1480.1 1184 L1471 1193.1 L1466 1203 L1137 1199Z"/></clipPath><clipPath id="frame"><rect x="1137" y="51.3" width="809" height="1147.7"/></clipPath></defs>
<g id="panelB"><g clip-path="url(#frame)">
<g clip-path="url(#land)">
<rect x="1100" y="0" width="900" height="1260" fill="#0c3d8c"/>
<path d="M1318 30 C1318.4 31.3 1319.7 35 1320.6 37.5 C1321.5 40 1322.4 42.5 1323.4 45 C1324.4 47.5 1325.4 49.9 1326.4 52.4 C1327.5 54.8 1328.6 57.2 1329.7 59.6 C1330.9 62 1332.1 64.4 1333.3 66.8 C1334.5 69.1 1335.8 71.5 1337.1 73.8 C1338.4 76.1 1339.7 78.4 1341.1 80.7 C1342.4 83 1343.8 85.3 1345.1 87.6 C1346.5 89.8 1347.9 92.1 1349.3 94.4 C1350.7 96.7 1352.1 98.9 1353.5 101.2 C1354.9 103.4 1356.4 105.7 1357.8 107.9 C1359.2 110.2 1360.7 112.4 1362.1 114.6 C1363.5 116.9 1365 119.1 1366.4 121.4 C1367.9 123.6 1369.3 125.8 1370.8 128.1 C1372.2 130.3 1373.7 132.5 1375.2 134.7 C1376.7 136.9 1378.2 139.1 1379.8 141.2 C1381.3 143.4 1382.9 145.5 1384.5 147.7 C1386.1 149.8 1387.7 151.9 1389.3 154 C1390.9 156.1 1392.6 158.2 1394.2 160.3 C1395.9 162.4 1397.5 164.5 1399.2 166.6 C1400.8 168.7 1402.5 170.8 1404.2 172.9 C1405.8 174.9 1407.5 177 1409.2 179 C1410.9 181.1 1412.6 183.1 1414.3 185.2 C1416.1 187.2 1417.8 189.2 1419.6 191.1 C1421.4 193.1 1423.3 195 1425.1 196.9 C1427 198.8 1428.9 200.6 1430.8 202.4 C1432.8 204.3 1434.7 206.1 1436.7 207.9 C1438.7 209.7 1440.6 211.4 1442.6 213.2 C1444.6 215 1446.6 216.7 1448.6 218.5 C1450.6 220.3 1452.6 222 1454.6 223.8 C1456.6 225.5 1458.6 227.3 1460.6 229.1 C1462.5 230.9 1464.5 232.7 1466.5 234.5 C1468.4 236.3 1470.3 238.1 1472.2 240 C1474.2 241.8 1476 243.7 1477.9 245.6 C1479.8 247.5 1481.7 249.4 1483.5 251.3 C1485.4 253.2 1487.2 255.1 1489 257 C1490.9 259 1492.6 261 1494.4 263 C1496.2 264.9 1497.9 267 1499.6 269 C1501.3 271.1 1503 273.1 1504.6 275.2 C1506.2 277.3 1507.8 279.4 1509.4 281.6 C1511 283.7 1512.5 285.9 1514 288.1 C1515.4 290.3 1516.8 292.6 1518.2 294.8 C1519.6 297.1 1520.9 299.4 1522.2 301.7 C1523.5 304.1 1524.7 306.4 1525.9 308.8 C1527.1 311.2 1528.2 313.6 1529.3 316 C1530.5 318.4 1531.5 320.8 1532.7 323.2 C1533.8 325.7 1534.9 328.1 1536 330.5 C1537.2 332.9 1538.3 335.3 1539.6 337.6 C1540.8 340 1542.1 342.3 1543.4 344.6 C1544.7 346.9 1546 349.2 1547.3 351.5 C1548.6 353.8 1549.9 356.2 1551.1 358.5 C1552.3 360.9 1553.5 363.2 1554.7 365.6 C1555.8 368 1556.9 370.4 1558.1 372.8 C1559.2 375.2 1560.3 377.7 1561.5 380 C1562.6 382.4 1563.8 384.8 1565.1 387.1 C1566.3 389.5 1567.6 391.8 1569 394.1 C1570.3 396.4 1571.7 398.6 1573.2 400.8 C1574.6 403.1 1576 405.3 1577.6 407.3 C1579.2 409.4 1580.8 411.5 1582.6 413.3 C1584.4 415.2 1586.3 416.9 1588.3 418.5 C1590.3 420.2 1592.5 421.6 1594.7 423 C1596.9 424.3 1599.2 425.5 1601.6 426.6 C1604 427.7 1606.4 428.7 1608.9 429.5 C1611.4 430.3 1613.9 431 1616.5 431.6 C1619.1 432.2 1621.7 432.6 1624.3 433 C1626.9 433.3 1629.5 433.5 1632.1 433.6 C1634.8 433.7 1637.4 433.7 1640 433.6 C1642.7 433.4 1645.3 433.2 1647.9 432.9 C1650.6 432.6 1653.2 432.1 1655.8 431.7 C1658.4 431.2 1661 430.6 1663.5 429.9 C1666.1 429.3 1668.7 428.6 1671.2 427.8 C1673.7 427 1676.3 426.2 1678.8 425.3 C1681.3 424.5 1683.8 423.5 1686.3 422.6 C1688.8 421.6 1691.2 420.6 1693.7 419.6 C1696.1 418.6 1698.6 417.6 1701 416.5 C1703.5 415.4 1705.9 414.3 1708.3 413.2 C1710.7 412.1 1713.2 411 1715.6 409.9 C1718 408.8 1720.4 407.7 1722.8 406.5 C1725.2 405.4 1727.6 404.3 1730 403.2 C1732.5 402 1734.9 400.9 1737.3 399.8 C1739.7 398.7 1742.2 397.7 1744.6 396.6 C1747 395.5 1749.5 394.5 1752 393.5 C1754.4 392.5 1756.9 391.5 1759.4 390.6 C1761.9 389.6 1764.4 388.7 1766.9 387.9 C1769.4 387 1771.9 386.2 1774.5 385.5 C1777 384.7 1779.6 384 1782.2 383.3 C1784.7 382.6 1787.3 382 1789.9 381.4 C1792.5 380.7 1795.1 380.2 1797.7 379.6 C1800.3 379 1802.9 378.5 1805.5 377.9 C1808.1 377.4 1810.7 376.9 1813.3 376.4 C1815.9 375.9 1818.6 375.4 1821.2 374.9 C1823.8 374.4 1826.4 373.9 1829 373.5 C1831.7 373 1834.3 372.6 1836.9 372.1 C1839.5 371.7 1842.2 371.3 1844.8 370.8 C1847.4 370.4 1850 370 1852.7 369.5 C1855.3 369.1 1857.9 368.7 1860.6 368.3 C1863.2 367.9 1865.8 367.4 1868.4 367 C1871.1 366.6 1873.7 366.2 1876.3 365.8 C1879 365.3 1881.6 364.9 1884.2 364.5 C1886.9 364.1 1889.5 363.7 1892.1 363.3 C1894.7 362.8 1898.7 362.2 1900 362 L2100 1400 L1000 1400 L1000 -100 L1318 -100Z" fill="#2a6cb0"/>
<path d="M1214.5 38 C1214.7 39.3 1215.1 43.3 1215.5 45.9 C1215.9 48.5 1216.3 51.1 1217 53.5 C1217.7 55.9 1218.5 58.3 1219.6 60.5 C1220.7 62.7 1222.1 64.8 1223.6 66.7 C1225.1 68.7 1226.9 70.5 1228.8 72.3 C1230.6 74.1 1232.6 75.8 1234.6 77.6 C1236.5 79.4 1238.5 81.2 1240.4 83 C1242.4 84.9 1244.3 86.7 1246.2 88.6 C1248.1 90.5 1250 92.4 1251.8 94.3 C1253.7 96.2 1255.5 98.2 1257.3 100.2 C1259.2 102.1 1261 104.1 1262.7 106.1 C1264.5 108.1 1266.3 110.1 1268 112.1 C1269.8 114.1 1271.5 116.2 1273.3 118.2 C1275 120.2 1276.8 122.3 1278.5 124.3 C1280.3 126.3 1282.1 128.3 1283.8 130.3 C1285.6 132.3 1287.4 134.3 1289.2 136.3 C1290.9 138.3 1292.7 140.3 1294.5 142.3 C1296.2 144.3 1298 146.4 1299.8 148.4 C1301.5 150.4 1303.3 152.4 1305 154.5 C1306.8 156.5 1308.5 158.5 1310.2 160.5 C1312 162.6 1313.7 164.6 1315.5 166.6 C1317.3 168.6 1319 170.6 1320.8 172.6 C1322.6 174.6 1324.4 176.6 1326.2 178.6 C1328 180.6 1329.8 182.6 1331.6 184.6 C1333.4 186.6 1335.2 188.5 1336.9 190.5 C1338.7 192.5 1340.5 194.5 1342.3 196.5 C1344.1 198.5 1345.9 200.5 1347.7 202.5 C1349.5 204.5 1351.3 206.4 1353.1 208.4 C1354.9 210.4 1356.6 212.4 1358.4 214.4 C1360.2 216.4 1362 218.4 1363.8 220.3 C1365.7 222.3 1367.5 224.3 1369.3 226.2 C1371.2 228.1 1373 230.1 1374.9 232 C1376.8 233.9 1378.6 235.8 1380.5 237.7 C1382.4 239.6 1384.3 241.5 1386.2 243.4 C1388.1 245.3 1390 247.2 1391.9 249 C1393.8 250.9 1395.7 252.8 1397.6 254.7 C1399.5 256.5 1401.5 258.4 1403.4 260.2 C1405.3 262.1 1407.3 263.9 1409.2 265.8 C1411.2 267.6 1413.2 269.4 1415.2 271.2 C1417.1 273 1419.2 274.7 1421.2 276.5 C1423.2 278.2 1425.3 279.9 1427.4 281.6 C1429.4 283.3 1431.5 284.9 1433.6 286.6 C1435.6 288.4 1437.7 290.1 1439.7 291.8 C1441.7 293.6 1443.7 295.4 1445.6 297.2 C1447.6 299 1449.5 300.9 1451.4 302.7 C1453.4 304.6 1455.3 306.5 1457.2 308.3 C1459.1 310.2 1461 312.1 1462.9 314 C1464.8 315.8 1466.7 317.7 1468.6 319.6 C1470.5 321.5 1472.4 323.4 1474.3 325.3 C1476.2 327.2 1478 329.1 1479.9 331 C1481.8 332.9 1483.6 334.8 1485.5 336.8 C1487.3 338.7 1489.1 340.7 1490.9 342.7 C1492.7 344.7 1494.4 346.7 1496.1 348.8 C1497.8 350.8 1499.5 352.9 1501.1 355.1 C1502.7 357.2 1504.2 359.4 1505.8 361.6 C1507.3 363.8 1508.7 366 1510.2 368.2 C1511.6 370.5 1513 372.8 1514.4 375 C1515.8 377.3 1517.2 379.6 1518.5 382 C1519.9 384.3 1521.2 386.6 1522.5 388.9 C1523.8 391.3 1525.1 393.6 1526.4 395.9 C1527.7 398.3 1529 400.6 1530.4 402.9 C1531.7 405.2 1533.1 407.5 1534.6 409.7 C1536 412 1537.5 414.2 1539 416.4 C1540.5 418.6 1542.1 420.7 1543.8 422.8 C1545.4 424.9 1547.1 427 1548.8 429 C1550.6 431 1552.4 433 1554.2 435 C1556 437 1557.8 438.9 1559.7 440.8 C1561.5 442.8 1563.3 444.7 1565.2 446.7 C1567 448.6 1568.9 450.6 1570.7 452.5 C1572.6 454.4 1574.4 456.4 1576.3 458.3 C1578.2 460.2 1580.1 462 1582 463.9 C1583.9 465.7 1585.9 467.5 1588 469.2 C1590 470.8 1592.1 472.5 1594.3 474 C1596.5 475.5 1598.7 476.9 1601 478.2 C1603.3 479.6 1605.7 480.8 1608.1 481.8 C1610.5 482.9 1612.9 483.9 1615.4 484.8 C1617.9 485.6 1620.5 486.4 1623.1 487 C1625.6 487.6 1628.2 488.2 1630.9 488.6 C1633.5 489.1 1636.1 489.4 1638.8 489.7 C1641.4 490 1644.1 490.2 1646.7 490.3 C1649.4 490.4 1652.1 490.5 1654.7 490.5 C1657.4 490.6 1660.1 490.5 1662.8 490.5 C1665.4 490.4 1668.1 490.3 1670.8 490.2 C1673.4 490 1676.1 489.9 1678.8 489.7 C1681.5 489.5 1684.1 489.2 1686.8 489 C1689.4 488.7 1692.1 488.5 1694.8 488.2 C1697.4 487.9 1700.1 487.6 1702.7 487.3 C1705.4 486.9 1708.1 486.6 1710.7 486.3 C1713.4 486 1716 485.6 1718.7 485.3 C1721.3 485 1724 484.7 1726.7 484.4 C1729.3 484.1 1732 483.8 1734.6 483.5 C1737.3 483.3 1740 483 1742.6 482.7 C1745.3 482.5 1748 482.2 1750.6 481.9 C1753.3 481.6 1755.9 481.4 1758.6 481.1 C1761.3 480.8 1763.9 480.5 1766.6 480.2 C1769.2 479.8 1771.9 479.5 1774.5 479.1 C1777.2 478.8 1779.8 478.4 1782.5 478 C1785.1 477.6 1787.8 477.2 1790.4 476.8 C1793.1 476.4 1795.7 475.9 1798.4 475.5 C1801 475.1 1803.6 474.6 1806.3 474.1 C1808.9 473.7 1811.5 473.2 1814.2 472.8 C1816.8 472.3 1819.5 471.8 1822.1 471.4 C1824.7 470.9 1828.7 470.2 1830 470 L2100 1400 L1000 1400 L1000 -100 L1214.5 -100Z" fill="#5b9ecb"/>
<path d="M1100 70 C1101.1 70.8 1104.2 73.3 1106.4 74.9 C1108.5 76.5 1110.6 78.1 1112.7 79.8 C1114.9 81.4 1117 83 1119.1 84.6 C1121.2 86.3 1123.4 87.9 1125.5 89.5 C1127.6 91.2 1129.7 92.8 1131.8 94.4 C1133.9 96.1 1136 97.7 1138.1 99.4 C1140.2 101.1 1142.3 102.8 1144.3 104.5 C1146.4 106.2 1148.4 107.9 1150.5 109.7 C1152.5 111.4 1154.5 113.1 1156.5 114.9 C1158.6 116.6 1160.6 118.4 1162.6 120.2 C1164.6 122 1166.5 123.8 1168.5 125.5 C1170.5 127.3 1172.5 129.2 1174.5 131 C1176.4 132.8 1178.4 134.6 1180.4 136.3 C1182.4 138.1 1184.4 139.9 1186.4 141.7 C1188.4 143.4 1190.4 145.2 1192.4 147 C1194.5 148.7 1196.5 150.4 1198.5 152.2 C1200.6 153.9 1202.6 155.6 1204.6 157.4 C1206.7 159.1 1208.7 160.8 1210.7 162.6 C1212.8 164.3 1214.8 166 1216.9 167.8 C1218.9 169.5 1220.9 171.2 1223 173 C1225 174.7 1227.1 176.4 1229.1 178.2 C1231.1 179.9 1233.2 181.6 1235.2 183.3 C1237.3 185.1 1239.3 186.8 1241.4 188.5 C1243.4 190.2 1245.5 191.9 1247.6 193.6 C1249.6 195.3 1251.7 197 1253.8 198.7 C1255.9 200.3 1258 202 1260 203.7 C1262.1 205.4 1264.2 207 1266.3 208.7 C1268.4 210.4 1270.5 212 1272.6 213.7 C1274.7 215.4 1276.8 217.1 1278.8 218.7 C1280.9 220.4 1283 222.1 1285.1 223.7 C1287.2 225.4 1289.3 227.1 1291.4 228.8 C1293.4 230.4 1295.5 232.1 1297.6 233.8 C1299.7 235.5 1301.8 237.2 1303.8 238.9 C1305.9 240.6 1308 242.3 1310 244 C1312.1 245.7 1314.1 247.4 1316.2 249.1 C1318.2 250.8 1320.3 252.6 1322.3 254.3 C1324.3 256 1326.4 257.8 1328.4 259.5 C1330.5 261.2 1332.5 263 1334.5 264.7 C1336.6 266.4 1338.6 268.2 1340.6 269.9 C1342.7 271.6 1344.7 273.4 1346.8 275.1 C1348.8 276.8 1350.8 278.6 1352.9 280.3 C1354.9 282 1356.9 283.8 1359 285.5 C1361 287.2 1363.1 289 1365.1 290.7 C1367.1 292.4 1369.2 294.2 1371.2 295.9 C1373.2 297.6 1375.3 299.4 1377.3 301.1 C1379.4 302.8 1381.4 304.6 1383.4 306.3 C1385.5 308 1387.5 309.7 1389.6 311.5 C1391.6 313.2 1393.6 314.9 1395.7 316.6 C1397.8 318.3 1399.8 320.1 1401.9 321.7 C1403.9 323.4 1406 325.1 1408.1 326.8 C1410.2 328.5 1412.3 330.2 1414.3 331.9 C1416.4 333.6 1418.5 335.2 1420.6 336.9 C1422.6 338.6 1424.7 340.3 1426.8 342 C1428.8 343.7 1430.9 345.4 1432.9 347.2 C1435 348.9 1437 350.6 1439 352.4 C1440.9 354.2 1442.9 356 1444.8 357.9 C1446.8 359.7 1448.7 361.6 1450.5 363.5 C1452.4 365.4 1454.2 367.3 1456 369.3 C1457.8 371.3 1459.5 373.3 1461.2 375.4 C1462.9 377.5 1464.5 379.6 1466.1 381.7 C1467.7 383.8 1469.3 386 1470.8 388.2 C1472.4 390.4 1473.9 392.6 1475.4 394.8 C1476.9 397 1478.4 399.2 1479.9 401.4 C1481.3 403.7 1482.8 405.9 1484.2 408.2 C1485.6 410.5 1487 412.7 1488.5 415 C1489.9 417.3 1491.3 419.5 1492.7 421.8 C1494.2 424 1495.6 426.3 1497 428.6 C1498.5 430.8 1499.9 433 1501.4 435.3 C1502.9 437.5 1504.4 439.7 1505.9 441.9 C1507.4 444.1 1509 446.3 1510.5 448.5 C1512 450.7 1513.6 452.9 1515.2 455 C1516.7 457.2 1518.3 459.3 1519.9 461.5 C1521.6 463.6 1523.2 465.7 1524.9 467.7 C1526.6 469.8 1528.3 471.8 1530.1 473.8 C1531.9 475.7 1533.8 477.6 1535.7 479.5 C1537.6 481.4 1539.5 483.2 1541.5 484.9 C1543.5 486.7 1545.6 488.4 1547.7 490.1 C1549.8 491.7 1551.9 493.3 1554 494.9 C1556.2 496.5 1558.4 498 1560.7 499.4 C1562.9 500.9 1565.2 502.3 1567.5 503.6 C1569.8 505 1572.1 506.3 1574.4 507.6 C1576.8 508.9 1579.1 510.1 1581.5 511.3 C1583.9 512.5 1586.3 513.6 1588.8 514.7 C1591.2 515.9 1593.6 516.9 1596.1 517.9 C1598.6 519 1601.1 519.9 1603.6 520.9 C1606.1 521.8 1608.6 522.7 1611.1 523.5 C1613.6 524.4 1616.2 525.2 1618.8 525.9 C1621.3 526.7 1623.9 527.4 1626.5 528.1 C1629.1 528.7 1631.7 529.4 1634.3 530 C1636.9 530.6 1639.5 531.1 1642.1 531.6 C1644.7 532.2 1647.3 532.6 1650 533.1 C1652.6 533.5 1655.3 533.9 1657.9 534.3 C1660.6 534.6 1663.2 535 1665.9 535.3 C1668.5 535.6 1671.2 535.9 1673.8 536.2 C1676.5 536.5 1679.2 536.7 1681.8 537 C1684.5 537.2 1687.1 537.4 1689.8 537.6 C1692.5 537.8 1695.1 537.9 1697.8 538.1 C1700.5 538.2 1703.2 538.3 1705.8 538.4 C1708.5 538.5 1711.2 538.6 1713.8 538.6 C1716.5 538.7 1719.2 538.7 1721.9 538.7 C1724.5 538.8 1727.2 538.8 1729.9 538.8 C1732.6 538.8 1735.2 538.7 1737.9 538.7 C1740.6 538.6 1743.3 538.6 1745.9 538.5 C1748.6 538.5 1751.3 538.4 1754 538.4 C1756.6 538.3 1759.3 538.2 1762 538.2 C1764.7 538.1 1768.7 538 1770 538 L2100 1400 L1000 1400 L1000 70Z" fill="#90bedc"/>
<path d="M1100 180 C1101.1 180.7 1104.5 182.8 1106.8 184.2 C1109.1 185.6 1111.4 187.1 1113.6 188.5 C1115.9 189.9 1118.2 191.3 1120.5 192.7 C1122.7 194.1 1125 195.5 1127.3 196.9 C1129.5 198.3 1131.8 199.8 1134.1 201.2 C1136.4 202.6 1138.6 204 1140.9 205.4 C1143.1 206.9 1145.4 208.3 1147.7 209.7 C1149.9 211.2 1152.2 212.6 1154.4 214 C1156.7 215.5 1159 216.9 1161.2 218.4 C1163.5 219.8 1165.7 221.3 1168 222.7 C1170.2 224.2 1172.5 225.6 1174.7 227.1 C1177 228.5 1179.2 230 1181.4 231.4 C1183.7 232.9 1185.9 234.3 1188.2 235.8 C1190.4 237.2 1192.7 238.7 1194.9 240.2 C1197.1 241.6 1199.4 243.1 1201.6 244.5 C1203.9 246 1206.1 247.5 1208.4 248.9 C1210.6 250.4 1212.8 251.8 1215.1 253.3 C1217.3 254.8 1219.6 256.2 1221.8 257.7 C1224.1 259.1 1226.3 260.5 1228.6 262 C1230.9 263.4 1233.1 264.8 1235.4 266.2 C1237.7 267.6 1240 269 1242.3 270.4 C1244.5 271.8 1246.8 273.1 1249.1 274.5 C1251.4 275.9 1253.7 277.3 1256 278.7 C1258.3 280.1 1260.5 281.5 1262.8 282.9 C1265.1 284.4 1267.3 285.8 1269.6 287.2 C1271.8 288.7 1274.1 290.1 1276.3 291.6 C1278.6 293 1280.8 294.5 1283.1 295.9 C1285.3 297.4 1287.6 298.9 1289.8 300.3 C1292 301.8 1294.3 303.2 1296.5 304.7 C1298.8 306.1 1301 307.6 1303.3 309.1 C1305.5 310.5 1307.8 312 1310 313.4 C1312.2 314.9 1314.5 316.4 1316.7 317.8 C1318.9 319.3 1321.1 320.8 1323.4 322.3 C1325.6 323.8 1327.8 325.3 1330 326.8 C1332.2 328.3 1334.4 329.9 1336.6 331.4 C1338.8 332.9 1341 334.5 1343.2 336 C1345.4 337.5 1347.6 339 1349.8 340.5 C1352 342 1354.2 343.5 1356.4 345 C1358.7 346.5 1360.9 348 1363.1 349.5 C1365.4 350.9 1367.6 352.4 1369.8 353.9 C1372.1 355.4 1374.3 356.8 1376.5 358.3 C1378.7 359.8 1381 361.3 1383.2 362.8 C1385.4 364.3 1387.6 365.9 1389.7 367.4 C1391.9 369 1394.1 370.5 1396.2 372.2 C1398.3 373.8 1400.4 375.4 1402.5 377.1 C1404.5 378.8 1406.6 380.5 1408.5 382.3 C1410.5 384.1 1412.4 386 1414.2 387.9 C1416.1 389.8 1417.8 391.8 1419.5 393.9 C1421.3 395.9 1422.9 398 1424.6 400.1 C1426.2 402.2 1427.9 404.3 1429.5 406.4 C1431.1 408.6 1432.7 410.7 1434.3 412.8 C1436 415 1437.6 417.1 1439.2 419.2 C1440.8 421.3 1442.5 423.5 1444.1 425.6 C1445.8 427.7 1447.4 429.8 1449.1 431.9 C1450.7 434 1452.4 436 1454.1 438.1 C1455.8 440.2 1457.5 442.3 1459.2 444.4 C1460.9 446.4 1462.5 448.5 1464.2 450.6 C1465.9 452.7 1467.6 454.8 1469.2 456.9 C1470.9 459 1472.5 461.1 1474.1 463.2 C1475.7 465.3 1477.4 467.5 1479 469.6 C1480.6 471.7 1482.2 473.9 1483.8 476 C1485.5 478.1 1487.1 480.2 1488.8 482.3 C1490.5 484.3 1492.2 486.4 1494 488.4 C1495.7 490.4 1497.5 492.4 1499.3 494.4 C1501.1 496.3 1502.9 498.3 1504.7 500.3 C1506.5 502.3 1508.3 504.2 1510.1 506.2 C1511.9 508.2 1513.6 510.2 1515.4 512.1 C1517.2 514.1 1519 516 1521 517.8 C1522.9 519.6 1524.9 521.3 1527 522.9 C1529.1 524.5 1531.3 526 1533.5 527.4 C1535.7 528.8 1538.1 530.1 1540.4 531.3 C1542.8 532.5 1545.2 533.7 1547.6 534.8 C1550 535.9 1552.5 537 1554.9 538.1 C1557.3 539.1 1559.8 540.2 1562.2 541.3 C1564.6 542.5 1567 543.7 1569.3 544.9 C1571.7 546.1 1574 547.4 1576.4 548.6 C1578.7 549.8 1581.1 551.1 1583.4 552.2 C1585.8 553.4 1588.3 554.4 1590.7 555.5 C1593.2 556.5 1595.7 557.4 1598.2 558.3 C1600.7 559.3 1603.2 560.2 1605.7 561.1 C1608.2 562 1610.7 563 1613.2 563.9 C1615.7 564.8 1618.2 565.8 1620.7 566.7 C1623.2 567.6 1625.7 568.5 1628.3 569.4 C1630.8 570.2 1633.3 571 1635.9 571.8 C1638.5 572.6 1641 573.3 1643.6 574 C1646.2 574.7 1648.8 575.4 1651.4 576.1 C1654 576.7 1656.6 577.4 1659.2 578 C1661.8 578.6 1664.4 579.2 1667 579.8 C1669.6 580.4 1672.2 581 1674.8 581.6 C1677.4 582.1 1680 582.7 1682.7 583.2 C1685.3 583.7 1687.9 584.3 1690.5 584.8 C1693.2 585.3 1695.8 585.8 1698.4 586.2 C1701 586.7 1703.7 587.2 1706.3 587.7 C1708.9 588.2 1711.6 588.6 1714.2 589.1 C1716.8 589.6 1719.5 590.1 1722.1 590.6 C1724.7 591 1728.7 591.8 1730 592 L2100 1400 L1000 1400 L1000 180Z" fill="#bcd3ec"/>
<path d="M1100 275 C1101.2 275.5 1104.9 277.1 1107.4 278.1 C1109.8 279.1 1112.3 280.2 1114.7 281.2 C1117.2 282.3 1119.6 283.3 1122.1 284.3 C1124.5 285.4 1127 286.4 1129.4 287.5 C1131.9 288.5 1134.3 289.6 1136.7 290.7 C1139.2 291.7 1141.6 292.8 1144 293.9 C1146.4 295 1148.9 296.2 1151.3 297.3 C1153.7 298.4 1156.1 299.6 1158.5 300.7 C1160.9 301.8 1163.3 303 1165.7 304.1 C1168.1 305.3 1170.5 306.4 1172.9 307.6 C1175.3 308.7 1177.7 309.9 1180.1 311 C1182.5 312.2 1184.9 313.3 1187.3 314.4 C1189.7 315.6 1192.2 316.7 1194.6 317.9 C1197 319 1199.4 320.2 1201.8 321.3 C1204.2 322.5 1206.6 323.6 1209 324.7 C1211.4 325.9 1213.8 327 1216.2 328.2 C1218.6 329.3 1221 330.5 1223.4 331.6 C1225.8 332.7 1228.2 333.9 1230.6 335 C1233 336.2 1235.4 337.3 1237.9 338.4 C1240.3 339.6 1242.7 340.7 1245.1 341.9 C1247.5 343 1249.9 344.2 1252.3 345.3 C1254.7 346.4 1257.1 347.5 1259.5 348.7 C1261.9 349.8 1264.4 350.9 1266.8 352 C1269.2 353.1 1271.6 354.2 1274.1 355.3 C1276.5 356.4 1278.9 357.5 1281.3 358.6 C1283.8 359.7 1286.2 360.8 1288.6 361.9 C1291 363 1293.5 364.1 1295.9 365.2 C1298.3 366.3 1300.7 367.4 1303.1 368.6 C1305.6 369.7 1308 370.8 1310.4 371.9 C1312.8 373.1 1315.2 374.2 1317.6 375.4 C1320 376.5 1322.4 377.7 1324.7 378.9 C1327.1 380.2 1329.4 381.4 1331.7 382.8 C1334 384.1 1336.3 385.5 1338.5 386.9 C1340.8 388.2 1343 389.7 1345.3 391.1 C1347.6 392.5 1349.8 393.9 1352.1 395.3 C1354.4 396.7 1356.6 398 1358.9 399.4 C1361.2 400.8 1363.4 402.2 1365.7 403.7 C1367.9 405.1 1370.1 406.6 1372.3 408.1 C1374.5 409.5 1376.7 411 1378.9 412.6 C1381.1 414.1 1383.2 415.7 1385.3 417.3 C1387.5 418.9 1389.5 420.5 1391.6 422.2 C1393.6 423.9 1395.7 425.6 1397.6 427.4 C1399.6 429.2 1401.6 431 1403.5 432.8 C1405.5 434.6 1407.4 436.5 1409.2 438.4 C1411.1 440.2 1413 442.1 1414.8 444.1 C1416.6 446 1418.4 448 1420.1 450 C1421.9 452 1423.6 454.1 1425.2 456.1 C1426.9 458.2 1428.6 460.3 1430.2 462.4 C1431.9 464.5 1433.5 466.6 1435.1 468.7 C1436.7 470.8 1438.2 473 1439.7 475.2 C1441.3 477.4 1442.8 479.5 1444.2 481.8 C1445.7 484 1447.1 486.2 1448.5 488.5 C1450 490.7 1451.3 493 1452.7 495.3 C1454 497.6 1455.3 499.9 1456.6 502.3 C1457.9 504.6 1459.2 506.9 1460.4 509.3 C1461.6 511.6 1462.8 514 1463.9 516.4 C1465.1 518.8 1466.1 521.3 1467.2 523.7 C1468.3 526.1 1469.3 528.6 1470.4 531 C1471.5 533.4 1472.5 535.9 1473.7 538.3 C1474.8 540.6 1476 543 1477.2 545.4 C1478.5 547.7 1479.8 550 1481.2 552.2 C1482.7 554.4 1484.2 556.5 1485.9 558.4 C1487.6 560.4 1489.4 562.2 1491.3 563.7 C1493.3 565.3 1495.5 566.7 1497.7 567.8 C1500 569 1502.4 569.8 1504.8 570.6 C1507.3 571.4 1509.9 572 1512.4 572.6 C1515 573.2 1517.6 573.6 1520.2 574.1 C1522.9 574.6 1525.5 575 1528.1 575.6 C1530.7 576.1 1533.3 576.6 1535.9 577.2 C1538.5 577.8 1541 578.5 1543.6 579.2 C1546.1 580 1548.7 580.8 1551.2 581.6 C1553.7 582.4 1556.2 583.3 1558.7 584.2 C1561.3 585 1563.7 586 1566.2 586.9 C1568.7 587.9 1571.2 588.8 1573.7 589.8 C1576.2 590.8 1578.6 591.8 1581.1 592.7 C1583.6 593.7 1586.1 594.7 1588.5 595.7 C1591 596.7 1593.5 597.7 1596 598.6 C1598.4 599.6 1600.9 600.6 1603.4 601.5 C1605.9 602.4 1608.4 603.4 1610.9 604.2 C1613.4 605.1 1615.9 606 1618.5 606.8 C1621 607.6 1623.5 608.4 1626.1 609.1 C1628.7 609.8 1631.2 610.4 1633.8 611 C1636.4 611.6 1639 612.1 1641.6 612.7 C1644.2 613.2 1646.8 613.7 1649.5 614.2 C1652.1 614.7 1654.7 615.2 1657.3 615.7 C1659.9 616.2 1662.5 616.7 1665.1 617.2 C1667.7 617.8 1670.3 618.3 1673 618.8 C1675.6 619.3 1678.2 619.9 1680.8 620.4 C1683.4 620.9 1686 621.4 1688.6 621.9 C1691.2 622.4 1693.9 622.9 1696.5 623.4 C1699.1 623.9 1701.7 624.5 1704.3 625 C1706.9 625.5 1709.5 626 1712.2 626.5 C1714.8 627 1718.7 627.7 1720 628 L2100 1400 L1000 1400 L1000 275Z" fill="#cba7d3"/>
<path d="M1100 362 C1101.3 362.3 1105.2 363.2 1107.8 363.8 C1110.4 364.4 1113.1 365 1115.7 365.6 C1118.3 366.2 1120.9 366.8 1123.5 367.4 C1126.1 368 1128.7 368.6 1131.3 369.2 C1133.9 369.9 1136.5 370.5 1139.1 371.2 C1141.7 371.9 1144.3 372.6 1146.9 373.3 C1149.4 374 1152 374.7 1154.6 375.5 C1157.2 376.2 1159.7 376.9 1162.3 377.7 C1164.9 378.4 1167.4 379.2 1170 379.9 C1172.6 380.7 1175.1 381.4 1177.7 382.2 C1180.3 382.9 1182.9 383.7 1185.4 384.4 C1188 385.1 1190.6 385.9 1193.2 386.6 C1195.8 387.2 1198.4 387.9 1201 388.5 C1203.6 389.1 1206.2 389.7 1208.8 390.2 C1211.4 390.7 1214 391.2 1216.7 391.6 C1219.3 392.1 1222 392.5 1224.6 392.9 C1227.3 393.3 1229.9 393.7 1232.6 394.1 C1235.2 394.5 1237.9 394.8 1240.5 395.3 C1243.1 395.7 1245.8 396.1 1248.4 396.6 C1251 397 1253.7 397.5 1256.3 398.1 C1258.9 398.7 1261.5 399.3 1264.1 400 C1266.6 400.6 1269.2 401.4 1271.8 402.1 C1274.3 402.9 1276.9 403.7 1279.4 404.5 C1282 405.3 1284.5 406.2 1287.1 407 C1289.6 407.9 1292.1 408.7 1294.6 409.7 C1297.1 410.6 1299.6 411.6 1302.1 412.6 C1304.6 413.6 1307 414.7 1309.4 415.8 C1311.8 417 1314.2 418.2 1316.6 419.4 C1319 420.5 1321.4 421.8 1323.8 423 C1326.2 424.2 1328.6 425.4 1331 426.6 C1333.3 427.8 1335.7 429 1338.1 430.2 C1340.5 431.5 1342.8 432.7 1345.1 434 C1347.4 435.4 1349.7 436.8 1352 438.2 C1354.2 439.6 1356.4 441.2 1358.6 442.7 C1360.8 444.2 1362.9 445.8 1365.1 447.4 C1367.2 449 1369.4 450.6 1371.5 452.2 C1373.7 453.8 1375.8 455.4 1378 457 C1380.1 458.6 1382.3 460.2 1384.4 461.8 C1386.5 463.5 1388.6 465.1 1390.6 466.8 C1392.6 468.6 1394.6 470.3 1396.5 472.2 C1398.4 474 1400.3 475.9 1402 477.9 C1403.8 479.9 1405.5 482 1407.1 484.1 C1408.8 486.2 1410.4 488.3 1411.9 490.5 C1413.5 492.7 1415 494.9 1416.5 497.1 C1418 499.3 1419.4 501.6 1420.9 503.8 C1422.3 506.1 1423.7 508.4 1425.1 510.7 C1426.4 513 1427.8 515.3 1429.1 517.6 C1430.3 520 1431.6 522.3 1432.8 524.7 C1434 527.1 1435.1 529.5 1436.2 531.9 C1437.3 534.4 1438.4 536.8 1439.4 539.3 C1440.5 541.8 1441.5 544.2 1442.5 546.7 C1443.5 549.2 1444.5 551.7 1445.6 554.1 C1446.6 556.6 1447.7 559 1448.9 561.4 C1450 563.8 1451.2 566.2 1452.6 568.4 C1453.9 570.7 1455.4 572.9 1457 575 C1458.5 577.1 1460.2 579.1 1462.1 581 C1463.9 582.9 1465.8 584.6 1467.9 586.2 C1469.9 587.8 1472.1 589.2 1474.4 590.5 C1476.6 591.7 1479 592.8 1481.5 593.7 C1483.9 594.6 1486.4 595.3 1489 596 C1491.5 596.6 1494.2 597.1 1496.7 597.7 C1499.3 598.3 1502 598.8 1504.6 599.4 C1507.1 600 1509.7 600.6 1512.3 601.4 C1514.8 602.1 1517.3 603 1519.8 603.9 C1522.3 604.8 1524.8 605.9 1527.2 606.9 C1529.7 608 1532.1 609.2 1534.5 610.3 C1536.9 611.5 1539.3 612.7 1541.7 613.9 C1544.1 615.1 1546.4 616.4 1548.8 617.6 C1551.2 618.8 1553.6 620 1556 621.2 C1558.4 622.4 1560.8 623.5 1563.2 624.7 C1565.6 625.8 1568.1 627 1570.5 628.1 C1572.9 629.2 1575.3 630.4 1577.8 631.5 C1580.2 632.6 1582.6 633.8 1585.1 634.9 C1587.5 636 1589.9 637.1 1592.4 638.2 C1594.8 639.2 1597.3 640.3 1599.8 641.3 C1602.2 642.3 1604.7 643.3 1607.2 644.3 C1609.7 645.2 1612.2 646.1 1614.8 647 C1617.3 647.9 1619.8 648.8 1622.3 649.7 C1624.9 650.6 1627.4 651.4 1630 652.2 C1632.5 653.1 1635.1 653.9 1637.6 654.6 C1640.2 655.4 1642.8 656.2 1645.3 656.9 C1647.9 657.6 1650.5 658.3 1653.1 659 C1655.7 659.7 1658.3 660.3 1660.9 660.9 C1663.5 661.6 1666.1 662.2 1668.7 662.8 C1671.3 663.4 1673.9 664 1676.5 664.6 C1679.1 665.2 1681.7 665.8 1684.3 666.4 C1686.9 667 1689.6 667.6 1692.2 668.2 C1694.8 668.8 1698.7 669.7 1700 670 L2100 1400 L1000 1400 L1000 362Z" fill="#bb7eba"/>
<path d="M1100 447 C1101.3 447.1 1105.3 447.3 1108 447.5 C1110.6 447.6 1113.3 447.8 1115.9 447.9 C1118.6 448.1 1121.2 448.2 1123.9 448.4 C1126.5 448.6 1129.2 448.7 1131.8 448.9 C1134.4 449.1 1137.1 449.3 1139.7 449.5 C1142.4 449.7 1145 450 1147.7 450.2 C1150.3 450.4 1153 450.7 1155.6 450.9 C1158.2 451.2 1160.9 451.4 1163.5 451.6 C1166.2 451.8 1168.8 452 1171.5 452.2 C1174.1 452.3 1176.8 452.4 1179.4 452.5 C1182.1 452.6 1184.7 452.7 1187.4 452.8 C1190 452.8 1192.7 452.9 1195.3 452.9 C1198 453 1200.7 453 1203.3 453 C1206 453.1 1208.6 453.1 1211.3 453.1 C1213.9 453.1 1216.6 453.1 1219.2 453.1 C1221.9 453.2 1224.5 453.2 1227.2 453.3 C1229.8 453.3 1232.5 453.4 1235.2 453.5 C1237.8 453.6 1240.5 453.7 1243.1 453.8 C1245.8 453.9 1248.4 454.1 1251.1 454.3 C1253.7 454.4 1256.4 454.6 1259 454.8 C1261.6 455 1264.3 455.3 1266.9 455.6 C1269.6 455.8 1272.2 456.1 1274.8 456.4 C1277.5 456.8 1280.1 457.1 1282.7 457.5 C1285.3 457.9 1288 458.3 1290.6 458.8 C1293.2 459.3 1295.8 459.8 1298.4 460.3 C1301 460.9 1303.5 461.5 1306.1 462.1 C1308.7 462.7 1311.3 463.4 1313.8 464 C1316.4 464.7 1319 465.4 1321.5 466.2 C1324.1 466.9 1326.6 467.7 1329.1 468.5 C1331.6 469.3 1334.2 470.1 1336.6 471 C1339.1 471.9 1341.6 472.9 1344 473.9 C1346.5 474.9 1348.9 476 1351.3 477.2 C1353.6 478.3 1356 479.6 1358.3 480.9 C1360.6 482.2 1362.8 483.6 1365 485 C1367.2 486.5 1369.3 488.1 1371.4 489.7 C1373.4 491.3 1375.5 493 1377.4 494.8 C1379.3 496.6 1381.1 498.5 1382.9 500.5 C1384.6 502.5 1386.3 504.5 1387.9 506.6 C1389.5 508.7 1391 510.9 1392.4 513.1 C1393.9 515.3 1395.3 517.5 1396.6 519.8 C1398 522.1 1399.2 524.4 1400.5 526.8 C1401.7 529.1 1403 531.4 1404.1 533.8 C1405.2 536.2 1406.3 538.6 1407.4 541.1 C1408.4 543.5 1409.4 546 1410.3 548.4 C1411.3 550.9 1412.1 553.4 1413 555.9 C1413.8 558.4 1414.6 561 1415.5 563.5 C1416.3 566 1417.1 568.5 1418 571 C1418.9 573.5 1419.8 576 1420.9 578.4 C1421.9 580.8 1423.1 583.1 1424.4 585.4 C1425.6 587.7 1427.1 589.9 1428.6 592 C1430.1 594.2 1431.7 596.2 1433.3 598.3 C1435 600.3 1436.7 602.3 1438.4 604.4 C1440 606.5 1441.7 608.5 1443.3 610.6 C1444.8 612.7 1446.4 614.9 1447.7 617.1 C1449.1 619.3 1450.4 621.6 1451.4 624 C1452.4 626.3 1453.3 628.7 1453.9 631.2 C1454.5 633.6 1454.8 636.1 1454.8 638.6 C1454.9 641 1454.6 643.5 1454.1 646 C1453.6 648.4 1452.7 650.8 1451.9 653.2 C1451.1 655.6 1450 657.9 1449.3 660.3 C1448.5 662.6 1447.7 665 1447.4 667.3 C1447.1 669.7 1447.1 672.1 1447.5 674.3 C1447.9 676.5 1448.7 678.6 1449.9 680.6 C1451.1 682.5 1452.7 684.3 1454.5 686 C1456.2 687.7 1458.3 689.2 1460.4 690.6 C1462.5 692.1 1464.8 693.5 1467 694.9 C1469.2 696.3 1471.4 697.8 1473.6 699.1 C1475.9 700.4 1478.1 701.8 1480.3 702.8 C1482.6 703.9 1484.9 704.8 1487.2 705.3 C1489.5 705.8 1491.9 706 1494.1 705.7 C1496.4 705.5 1498.7 704.7 1500.9 703.8 C1503.1 702.9 1505.2 701.4 1507.2 700 C1509.3 698.6 1511.3 696.9 1513.4 695.4 C1515.5 693.8 1517.5 692.2 1519.7 690.7 C1521.9 689.3 1524.1 687.9 1526.4 686.6 C1528.6 685.4 1531 684.2 1533.4 683.2 C1535.8 682.2 1538.3 681.3 1540.8 680.7 C1543.3 680 1545.8 679.5 1548.4 679.1 C1551 678.8 1553.6 678.6 1556.2 678.6 C1558.8 678.5 1561.4 678.7 1564 678.8 C1566.7 679 1569.3 679.3 1571.9 679.6 C1574.6 679.9 1577.2 680.2 1579.8 680.6 C1582.5 680.9 1585.1 681.3 1587.7 681.7 C1590.3 682.2 1592.9 682.6 1595.5 683.1 C1598.1 683.6 1600.7 684.1 1603.3 684.7 C1605.9 685.2 1608.5 685.8 1611.1 686.3 C1613.7 686.9 1616.3 687.5 1618.9 688.1 C1621.5 688.6 1624.1 689.2 1626.7 689.8 C1629.3 690.4 1631.9 691 1634.5 691.5 C1637 692.1 1639.6 692.7 1642.2 693.3 C1644.8 693.8 1648.7 694.7 1650 695 L2100 1400 L1000 1400 L1000 447Z" fill="#d6479c"/>
<path d="M1100 532 C1101.3 531.8 1105.3 531.2 1107.9 530.9 C1110.5 530.5 1113.2 530.1 1115.8 529.7 C1118.5 529.4 1121.1 529 1123.7 528.6 C1126.4 528.2 1129 527.8 1131.6 527.4 C1134.3 527 1136.9 526.5 1139.5 526.1 C1142.1 525.6 1144.7 525.1 1147.4 524.6 C1150 524.1 1152.6 523.6 1155.2 523 C1157.8 522.5 1160.4 521.9 1163 521.3 C1165.6 520.7 1168.2 520.2 1170.8 519.5 C1173.4 518.9 1176 518.3 1178.5 517.7 C1181.1 517.1 1183.7 516.4 1186.3 515.8 C1188.9 515.2 1191.5 514.5 1194.1 513.9 C1196.7 513.3 1199.3 512.7 1201.9 512.1 C1204.5 511.6 1207.1 511 1209.7 510.5 C1212.3 509.9 1214.9 509.4 1217.5 508.9 C1220.1 508.4 1222.7 507.9 1225.4 507.5 C1228 507 1230.6 506.6 1233.2 506.2 C1235.9 505.8 1238.5 505.4 1241.1 505 C1243.8 504.7 1246.4 504.3 1249.1 504 C1251.7 503.7 1254.4 503.5 1257 503.2 C1259.7 503 1262.3 502.8 1265 502.6 C1267.6 502.5 1270.3 502.3 1272.9 502.3 C1275.6 502.2 1278.3 502.1 1280.9 502.1 C1283.6 502.1 1286.2 502.1 1288.9 502.2 C1291.6 502.2 1294.2 502.4 1296.9 502.5 C1299.5 502.7 1302.2 502.9 1304.8 503.2 C1307.4 503.5 1310.1 503.8 1312.7 504.2 C1315.3 504.6 1317.9 505.1 1320.6 505.6 C1323.2 506.1 1325.8 506.7 1328.3 507.3 C1330.9 508 1333.5 508.7 1336 509.5 C1338.5 510.2 1341 511.1 1343.5 512.1 C1345.9 513 1348.3 514.1 1350.6 515.3 C1352.9 516.6 1355.1 517.9 1357.1 519.5 C1359.1 521 1361 522.8 1362.7 524.7 C1364.4 526.5 1365.9 528.6 1367.3 530.8 C1368.7 533 1369.9 535.3 1371.1 537.7 C1372.2 540 1373.3 542.5 1374.3 544.9 C1375.4 547.3 1376.4 549.8 1377.5 552.2 C1378.5 554.7 1379.6 557.1 1380.7 559.5 C1381.8 562 1383 564.4 1384.2 566.7 C1385.4 569.1 1386.6 571.5 1387.9 573.8 C1389.1 576.1 1390.5 578.4 1391.8 580.7 C1393.2 583 1394.6 585.3 1396 587.5 C1397.5 589.8 1398.9 592 1400.4 594.2 C1401.9 596.4 1403.5 598.5 1405.1 600.6 C1406.6 602.8 1408.3 604.9 1409.9 607 C1411.5 609.1 1413.2 611.2 1414.8 613.3 C1416.3 615.4 1417.9 617.5 1419.4 619.7 C1420.8 621.9 1422.2 624.2 1423.3 626.5 C1424.5 628.8 1425.5 631.2 1426.3 633.7 C1427.1 636.1 1427.8 638.6 1428.1 641.2 C1428.5 643.7 1428.7 646.3 1428.6 648.8 C1428.5 651.4 1428.1 653.9 1427.7 656.5 C1427.3 659 1426.5 661.5 1426 664 C1425.4 666.6 1424.7 669.1 1424.3 671.6 C1423.9 674.1 1423.6 676.6 1423.7 679.1 C1423.8 681.5 1424.2 684 1424.9 686.3 C1425.6 688.6 1426.7 690.9 1428 693 C1429.3 695.1 1430.9 697.1 1432.6 699 C1434.4 700.9 1436.3 702.6 1438.3 704.3 C1440.3 706 1442.5 707.5 1444.7 709 C1446.8 710.5 1449.1 711.9 1451.4 713.3 C1453.6 714.7 1455.9 716.1 1458.2 717.4 C1460.5 718.7 1462.9 720 1465.2 721.2 C1467.6 722.3 1469.9 723.5 1472.3 724.4 C1474.8 725.3 1477.2 726.2 1479.7 726.7 C1482.2 727.3 1484.8 727.6 1487.3 727.7 C1489.9 727.8 1492.4 727.6 1495 727.3 C1497.6 727 1500.1 726.4 1502.7 725.8 C1505.2 725.2 1507.7 724.4 1510.3 723.7 C1512.8 722.9 1515.3 722.1 1517.9 721.3 C1520.4 720.6 1523 719.9 1525.5 719.3 C1528.1 718.7 1530.7 718.2 1533.3 717.8 C1535.9 717.4 1538.6 717.2 1541.2 717 C1543.8 716.9 1546.5 716.8 1549.1 716.9 C1551.7 717 1554.4 717.2 1557 717.4 C1559.7 717.7 1562.3 718 1564.9 718.4 C1567.5 718.8 1570.2 719.3 1572.8 719.7 C1575.4 720.2 1578 720.7 1580.6 721.2 C1583.3 721.7 1585.9 722.1 1588.5 722.6 C1591.1 723.1 1593.7 723.5 1596.4 724 C1599 724.4 1601.6 724.9 1604.2 725.3 C1606.9 725.8 1609.5 726.2 1612.1 726.7 C1614.7 727.1 1618.7 727.8 1620 728 L2100 1400 L1000 1400 L1000 532Z" fill="#d10060"/>
<path d="M1100 645 C1101 644.7 1103.8 643.8 1105.7 643.2 C1107.6 642.6 1109.5 642 1111.4 641.4 C1113.3 640.9 1115.2 640.3 1117.1 639.7 C1119 639.1 1120.9 638.5 1122.8 637.9 C1124.7 637.3 1126.6 636.7 1128.5 636.1 C1130.4 635.5 1132.3 634.9 1134.2 634.3 C1136.1 633.7 1138 633.1 1139.9 632.4 C1141.8 631.8 1143.6 631.1 1145.5 630.4 C1147.4 629.8 1149.3 629.1 1151.1 628.4 C1153 627.7 1154.9 627 1156.7 626.3 C1158.6 625.6 1160.4 624.9 1162.3 624.2 C1164.2 623.5 1166 622.7 1167.9 622 C1169.7 621.2 1171.5 620.5 1173.4 619.7 C1175.2 618.9 1177 618.1 1178.8 617.3 C1180.7 616.5 1182.5 615.7 1184.3 614.9 C1186.1 614 1187.9 613.2 1189.7 612.4 C1191.6 611.6 1193.4 610.8 1195.2 609.9 C1197 609.1 1198.8 608.3 1200.6 607.4 C1202.4 606.5 1204.2 605.7 1206 604.8 C1207.7 603.9 1209.5 603 1211.3 602.1 C1213.1 601.3 1214.9 600.4 1216.7 599.5 C1218.4 598.6 1220.2 597.7 1222 596.8 C1223.8 595.9 1225.6 595.1 1227.4 594.2 C1229.2 593.3 1231 592.5 1232.8 591.6 C1234.6 590.8 1236.4 589.9 1238.2 589.1 C1240 588.3 1241.8 587.5 1243.6 586.7 C1245.4 585.8 1247.3 585 1249.1 584.2 C1250.9 583.4 1252.7 582.6 1254.5 581.7 C1256.3 580.9 1258.2 580.1 1260 579.3 C1261.8 578.5 1263.6 577.7 1265.4 576.8 C1267.2 576 1269 575.2 1270.9 574.4 C1272.7 573.6 1274.5 572.7 1276.3 571.9 C1278.1 571.1 1279.9 570.3 1281.7 569.4 C1283.5 568.6 1285.3 567.8 1287.1 566.9 C1288.9 566 1290.6 565 1292.4 564 C1294.1 563.1 1295.8 562 1297.4 560.9 C1299.1 559.9 1300.7 558.7 1302.4 557.6 C1304 556.5 1305.6 555.3 1307.3 554.2 C1308.9 553 1310.5 551.8 1312.1 550.7 C1313.7 549.6 1315.4 548.4 1317 547.4 C1318.7 546.4 1320.4 545.4 1322.1 544.7 C1323.7 544.1 1325.5 543.5 1327 543.5 C1328.6 543.4 1330.3 543.7 1331.6 544.3 C1333 545 1334.3 546.1 1335.4 547.4 C1336.5 548.6 1337.3 550.3 1338 552 C1338.7 553.7 1339.2 555.6 1339.6 557.5 C1339.9 559.4 1340 561.3 1340.1 563.3 C1340.2 565.2 1340.1 567.2 1340.1 569.2 C1340.1 571.2 1340 573.1 1340.1 575.1 C1340.1 577 1340.3 579 1340.5 580.9 C1340.8 582.8 1341.2 584.8 1341.8 586.6 C1342.3 588.5 1343 590.4 1343.7 592.2 C1344.4 594.1 1345.2 595.9 1346 597.7 C1346.8 599.5 1347.7 601.3 1348.6 603.1 C1349.5 604.9 1350.4 606.6 1351.4 608.3 C1352.4 610.1 1353.4 611.7 1354.5 613.4 C1355.6 615.1 1356.7 616.7 1357.9 618.3 C1359.1 619.8 1360.3 621.4 1361.6 622.9 C1362.9 624.4 1364.2 625.9 1365.6 627.4 C1366.9 628.8 1368.3 630.2 1369.7 631.6 C1371.2 633 1372.6 634.3 1374.1 635.7 C1375.6 637.1 1377 638.4 1378.5 639.8 C1379.9 641.1 1381.4 642.5 1382.8 643.9 C1384.2 645.3 1385.7 646.6 1387 648.1 C1388.3 649.5 1389.6 651 1390.8 652.5 C1391.9 654.1 1392.9 655.7 1393.8 657.4 C1394.6 659.1 1395.3 660.9 1395.8 662.8 C1396.2 664.6 1396.5 666.6 1396.7 668.5 C1397 670.4 1397 672.4 1397.1 674.3 C1397.2 676.3 1397.3 678.2 1397.5 680.1 C1397.8 682.1 1398.1 684 1398.6 685.8 C1399.1 687.7 1399.7 689.6 1400.4 691.4 C1401.1 693.2 1402 695 1402.9 696.7 C1403.8 698.5 1404.8 700.2 1405.9 701.9 C1407 703.5 1408.1 705.1 1409.3 706.7 C1410.5 708.3 1411.8 709.8 1413.1 711.3 C1414.4 712.7 1415.8 714.2 1417.2 715.5 C1418.7 716.9 1420.2 718.2 1421.7 719.4 C1423.2 720.6 1424.8 721.9 1426.4 723 C1428.1 724.1 1429.7 725.1 1431.4 726.1 C1433.2 727 1434.9 727.9 1436.7 728.7 C1438.5 729.5 1440.4 730.2 1442.2 731 C1444.1 731.8 1445.9 732.5 1447.7 733.2 C1449.6 734 1451.4 734.8 1453.3 735.5 C1455.1 736.3 1456.9 737.1 1458.8 737.8 C1460.6 738.5 1462.5 739.2 1464.4 739.9 C1466.2 740.5 1468.1 741.1 1470.1 741.6 C1472 742 1473.9 742.5 1475.8 742.7 C1477.8 743 1479.7 743.2 1481.7 743.2 C1483.6 743.3 1485.6 743.2 1487.6 743.1 C1489.6 743 1491.5 742.7 1493.5 742.4 C1495.4 742.1 1497.4 741.8 1499.3 741.4 C1501.3 741 1503.2 740.5 1505.2 740.2 C1507.1 739.8 1509.1 739.4 1511 739 C1513 738.7 1514.9 738.4 1516.9 738.2 C1518.9 737.9 1520.8 737.8 1522.8 737.7 C1524.8 737.7 1526.8 737.7 1528.7 737.8 C1530.7 737.9 1532.7 738.1 1534.6 738.4 C1536.6 738.7 1538.5 739.1 1540.5 739.5 C1542.4 739.9 1544.3 740.4 1546.2 741 C1548.2 741.5 1550 742.1 1551.9 742.7 C1553.8 743.3 1555.7 744 1557.6 744.7 C1559.4 745.4 1561.3 746.1 1563.1 746.8 C1565 747.5 1566.9 748.3 1568.7 749 C1570.6 749.7 1572.4 750.4 1574.3 751.1 C1576.2 751.8 1578 752.4 1579.9 753.1 C1581.8 753.7 1583.7 754.3 1585.6 754.9 C1587.5 755.5 1589.4 756.1 1591.3 756.6 C1593.2 757.2 1595.1 757.8 1597.1 758.3 C1599 758.9 1600.9 759.4 1602.8 760 C1604.7 760.5 1606.6 761.1 1608.5 761.7 C1610.4 762.2 1612.4 762.8 1614.3 763.3 C1616.2 763.9 1619 764.7 1620 765 L1620 935 C1618.7 935.1 1614.7 935.3 1612 935.4 C1609.4 935.5 1606.7 935.7 1604 935.8 C1601.4 935.9 1598.7 936.1 1596 936.2 C1593.4 936.4 1590.7 936.5 1588.1 936.7 C1585.4 936.9 1582.8 937.1 1580.1 937.3 C1577.5 937.6 1574.8 937.8 1572.1 938.1 C1569.5 938.3 1566.9 938.6 1564.2 938.9 C1561.6 939.2 1558.9 939.5 1556.3 939.8 C1553.6 940 1550.9 940.3 1548.3 940.5 C1545.6 940.7 1543 940.9 1540.3 941.1 C1537.7 941.3 1535 941.5 1532.4 941.6 C1529.7 941.8 1527 941.9 1524.4 942 C1521.7 942.1 1519 942.3 1516.4 942.4 C1513.7 942.5 1511.1 942.5 1508.4 942.6 C1505.7 942.7 1503.1 942.7 1500.4 942.7 C1497.7 942.8 1495.1 942.8 1492.4 942.8 C1489.7 942.8 1487.1 942.8 1484.4 942.8 C1481.7 942.8 1479.1 942.7 1476.4 942.7 C1473.8 942.7 1471.1 942.6 1468.4 942.5 C1465.8 942.5 1463.1 942.4 1460.4 942.3 C1457.8 942.2 1455.1 942.2 1452.4 942.1 C1449.8 942 1447.1 941.9 1444.5 941.8 C1441.8 941.7 1439.1 941.6 1436.5 941.5 C1433.8 941.4 1431.1 941.3 1428.5 941.2 C1425.8 941.1 1423.2 941 1420.5 940.9 C1417.8 940.8 1415.2 940.7 1412.5 940.6 C1409.8 940.6 1407.2 940.5 1404.5 940.6 C1401.9 940.6 1399.2 940.7 1396.6 940.8 C1393.9 940.9 1391.2 941.1 1388.6 941.3 C1385.9 941.5 1383.3 941.7 1380.6 942 C1378 942.3 1375.3 942.6 1372.7 942.9 C1370 943.2 1367.4 943.5 1364.8 943.8 C1362.1 944.1 1359.5 944.5 1356.8 944.8 C1354.2 945.2 1351.5 945.5 1348.9 945.8 C1346.2 946.1 1343.6 946.4 1341 946.7 C1338.3 947 1335.7 947.3 1333 947.6 C1330.4 947.8 1327.7 948.1 1325.1 948.4 C1322.4 948.7 1319.8 949 1317.2 949.4 C1314.6 949.9 1311.9 950.3 1309.4 950.9 C1306.8 951.5 1304.3 952.2 1301.8 953 C1299.2 953.8 1296.8 954.7 1294.3 955.7 C1291.9 956.7 1289.5 957.8 1287.1 959 C1284.8 960.2 1282.4 961.5 1280.2 962.8 C1277.9 964.2 1275.7 965.6 1273.5 967.1 C1271.3 968.7 1269.2 970.3 1267.1 971.9 C1265.1 973.5 1263 975.3 1261.1 977 C1259.1 978.8 1257.2 980.6 1255.3 982.5 C1253.4 984.4 1251.6 986.3 1249.8 988.3 C1248.1 990.3 1246.4 992.3 1244.7 994.4 C1243 996.5 1241.4 998.6 1239.9 1000.7 C1238.4 1002.9 1236.9 1005.1 1235.4 1007.3 C1234 1009.6 1232.6 1011.8 1231.3 1014.1 C1230 1016.4 1228.7 1018.8 1227.5 1021.2 C1226.3 1023.5 1225.2 1025.9 1224.1 1028.4 C1223.1 1030.8 1222.1 1033.2 1221.2 1035.7 C1220.3 1038.2 1219.4 1040.7 1218.7 1043.3 C1217.9 1045.8 1217.2 1048.4 1216.6 1051 C1216 1053.5 1215.4 1056.1 1215 1058.8 C1214.5 1061.4 1214.1 1064 1213.7 1066.6 C1213.4 1069.3 1213.1 1071.9 1212.9 1074.6 C1212.6 1077.2 1212.5 1079.9 1212.4 1082.5 C1212.3 1085.2 1212.2 1087.8 1212.3 1090.5 C1212.3 1093.1 1212.4 1095.8 1212.5 1098.4 C1212.6 1101.1 1212.8 1103.8 1213.1 1106.4 C1213.4 1109 1213.7 1111.7 1214.1 1114.3 C1214.4 1117 1214.8 1119.6 1215.3 1122.2 C1215.8 1124.8 1216.3 1127.4 1216.8 1130 C1217.3 1132.7 1217.9 1135.3 1218.5 1137.9 C1219.1 1140.4 1219.7 1143 1220.4 1145.6 C1221 1148.2 1221.7 1150.8 1222.4 1153.3 C1223.1 1155.9 1223.9 1158.5 1224.6 1161 C1225.4 1163.6 1226.2 1166.1 1227 1168.7 C1227.7 1171.2 1228.6 1173.7 1229.4 1176.3 C1230.2 1178.8 1231 1181.4 1231.8 1183.9 C1232.6 1186.4 1233.5 1189 1234.3 1191.5 C1235 1194.1 1235.8 1196.6 1236.6 1199.2 C1237.3 1201.7 1238 1204.3 1238.8 1206.8 C1239.5 1209.4 1240.2 1212 1240.9 1214.6 C1241.6 1217.1 1242.3 1219.7 1242.9 1222.3 C1243.6 1224.8 1244.7 1228.7 1245 1230 L1000 1230 L1000 645Z" fill="#860038"/>
<path d="M1600 1008 C1598.7 1007.9 1594.7 1007.6 1592 1007.4 C1589.4 1007.2 1586.7 1007 1584.1 1006.8 C1581.4 1006.6 1578.8 1006.5 1576.1 1006.2 C1573.5 1006 1570.8 1005.8 1568.2 1005.6 C1565.5 1005.4 1562.9 1005.1 1560.2 1004.9 C1557.6 1004.6 1554.9 1004.3 1552.3 1004 C1549.7 1003.7 1547 1003.3 1544.4 1003 C1541.7 1002.7 1539.1 1002.4 1536.5 1002.1 C1533.8 1001.8 1531.2 1001.6 1528.5 1001.4 C1525.9 1001.2 1523.2 1001 1520.6 1000.9 C1517.9 1000.7 1515.2 1000.6 1512.6 1000.6 C1509.9 1000.6 1507.3 1000.6 1504.6 1000.7 C1502 1000.7 1499.3 1000.9 1496.7 1001 C1494 1001.2 1491.4 1001.5 1488.7 1001.8 C1486.1 1002.1 1483.5 1002.4 1480.9 1002.9 C1478.2 1003.3 1475.6 1003.8 1473 1004.4 C1470.5 1005 1467.9 1005.6 1465.3 1006.3 C1462.8 1007 1460.2 1007.8 1457.7 1008.6 C1455.2 1009.5 1452.7 1010.3 1450.2 1011.3 C1447.7 1012.2 1445.2 1013.1 1442.7 1014.1 C1440.2 1015.1 1437.8 1016.1 1435.3 1017.1 C1432.9 1018.1 1430.4 1019.1 1428 1020.2 C1425.5 1021.2 1423.1 1022.2 1420.6 1023.3 C1418.2 1024.4 1415.8 1025.5 1413.3 1026.6 C1410.9 1027.6 1408.5 1028.8 1406.1 1029.9 C1403.7 1031 1401.3 1032.1 1398.9 1033.3 C1396.5 1034.4 1394.1 1035.6 1391.7 1036.8 C1389.3 1038 1387 1039.2 1384.6 1040.5 C1382.2 1041.7 1379.9 1042.9 1377.6 1044.2 C1375.3 1045.5 1372.9 1046.8 1370.7 1048.2 C1368.4 1049.6 1366.1 1050.9 1363.9 1052.4 C1361.6 1053.8 1359.4 1055.3 1357.3 1056.8 C1355.1 1058.3 1353 1059.9 1350.9 1061.6 C1348.8 1063.2 1346.7 1064.9 1344.8 1066.6 C1342.8 1068.4 1340.8 1070.2 1339 1072.1 C1337.1 1073.9 1335.3 1075.9 1333.5 1077.9 C1331.8 1079.8 1330.1 1081.9 1328.6 1084 C1327 1086.1 1325.6 1088.3 1324.3 1090.6 C1323 1092.9 1321.8 1095.2 1320.8 1097.6 C1319.8 1100 1319 1102.5 1318.3 1105 C1317.7 1107.5 1317.2 1110.1 1316.9 1112.7 C1316.6 1115.3 1316.5 1117.9 1316.6 1120.5 C1316.7 1123.1 1316.9 1125.7 1317.3 1128.3 C1317.7 1130.8 1318.3 1133.4 1319 1135.9 C1319.7 1138.5 1320.6 1140.9 1321.6 1143.4 C1322.5 1145.8 1323.7 1148.2 1324.9 1150.5 C1326.1 1152.8 1327.5 1155.1 1328.9 1157.3 C1330.4 1159.5 1332 1161.6 1333.6 1163.7 C1335.2 1165.7 1337 1167.7 1338.8 1169.7 C1340.6 1171.6 1342.4 1173.5 1344.4 1175.3 C1346.3 1177.1 1348.3 1178.9 1350.3 1180.6 C1352.3 1182.3 1354.4 1184 1356.4 1185.6 C1358.5 1187.3 1360.6 1188.9 1362.6 1190.5 C1364.6 1192.2 1366.7 1193.8 1368.5 1195.6 C1370.3 1197.4 1371.9 1199.2 1373.4 1201.2 C1374.9 1203.2 1376.1 1205.4 1377.2 1207.7 C1378.4 1210 1379.3 1212.4 1380.2 1214.9 C1381.1 1217.3 1381.8 1219.9 1382.6 1222.4 C1383.4 1224.9 1384.6 1228.7 1385 1230 L1600 1230Z" fill="#d6479c"/>
<circle cx="1587" cy="126.2" r="13.4" fill="#2a6cb0"/>
</g>
<g fill="none" stroke="#fff" stroke-width="2.8" stroke-linejoin="round" stroke-linecap="round">
<path d="M1520.9 51.5 C1521.7 52.1 1523.7 54.5 1525.5 55.4 C1527.3 56.3 1529.5 57.1 1531.7 56.8 C1533.9 56.5 1537.4 54 1538.5 53.5"/>
<path d="M1265.9 51.2 C1267.3 52.8 1271.6 58.8 1274.5 60.5 C1277.4 62.2 1279.4 63 1283.2 61.6 C1287 60.2 1294.9 53.5 1297.2 51.9"/>
<path d="M1443.9 64.8 C1442.8 66.1 1438 69.7 1437.4 72.4 C1436.9 75.1 1438.3 77 1440.6 81 C1442.9 85 1448.5 91.4 1451.4 96.1 C1454.3 100.8 1455.9 104 1457.9 109 C1459.9 114 1462 120.5 1463.3 126.3 C1464.5 132.1 1465.4 138.3 1465.4 143.5 C1465.4 148.7 1462.6 157.6 1463.3 157.6 C1464 157.6 1468.2 148.7 1469.8 143.5 C1471.4 138.3 1472.8 130.2 1473 126.3 C1473.2 122.3 1472.2 123.4 1470.8 119.8 C1469.4 116.2 1466.6 109 1464.4 104.7 C1462.2 100.4 1461.3 98.6 1457.9 93.9 C1454.5 89.2 1446 81.4 1443.9 76.7 C1441.8 72 1445.4 67.9 1445.4 65.9 C1445.4 63.9 1444.2 65 1443.9 64.8"/>
<path d="M1477.3 86.4 C1478.7 85.9 1483 83.8 1485.9 83.1 C1488.8 82.4 1492.8 81.2 1494.6 82.1 C1496.4 83 1497.1 85.8 1496.7 88.5 C1496.3 91.2 1494.6 97.1 1492.4 98.2 C1490.2 99.3 1485.8 96.1 1483.8 95 C1481.8 93.9 1481.6 93.2 1480.5 91.8 C1479.4 90.4 1477.8 87.3 1477.3 86.4"/>
<path d="M1527 93.9 C1528.4 93.2 1533.1 91.2 1535.6 89.6 C1538.1 88 1539.6 84.7 1542.1 84.2 C1544.6 83.7 1548.7 84.4 1550.7 86.4 C1552.7 88.4 1554.3 93.2 1554 96.1 C1553.7 99 1550.9 102.5 1548.6 103.6 C1546.2 104.7 1542.4 103.5 1539.9 102.6 C1537.4 101.7 1535.7 99.7 1533.5 98.2 C1531.3 96.8 1528.1 94.6 1527 93.9"/>
<path d="M1596 119.8 C1597.3 120.7 1602.9 123 1603.6 125.2 C1604.3 127.4 1602.3 130.5 1600.3 132.8 C1598.3 135.1 1595.1 137.9 1591.7 139.2 C1588.3 140.4 1581.9 140.1 1579.9 140.3"/>
<path d="M1696.3 174.8 C1696.8 176.2 1698.3 183.3 1699.6 183.5 C1700.9 183.7 1703.2 177.2 1703.9 175.9"/>
<path d="M1722.2 181.3 C1722.8 182.4 1723.5 186.4 1725.5 187.8 C1727.5 189.2 1732.7 189.6 1734.1 189.9"/>
<path d="M1819.3 227.7 C1818.8 228.8 1816.6 230.9 1816.1 234.1 C1815.6 237.3 1815.4 244 1816.1 247.1 C1816.8 250.2 1819 253.2 1820.4 252.5 C1821.8 251.8 1824 246.6 1824.3 242.8 C1824.6 239 1822.9 232.3 1822.1 229.8 C1821.3 227.3 1819.8 228 1819.3 227.7"/>
<path d="M1831.6 266.5 C1831.2 269 1829.8 279.1 1829.4 281.6"/>
<path d="M1797.7 280.5 C1796.8 282.5 1794.3 288.8 1792.3 292.4 C1790.3 296 1787.2 299.2 1785.9 302.1 C1784.7 305 1784.3 307.6 1784.8 309.6 C1785.3 311.6 1787.5 314 1789.1 314 C1790.7 314 1792.9 312.1 1794.5 309.6 C1796.1 307.1 1796.8 302.1 1798.8 298.9 C1800.8 295.7 1806 292 1806.4 290.2 C1806.8 288.4 1802.5 289.7 1801 288.1 C1799.5 286.5 1798.2 281.8 1797.7 280.5"/>
<path d="M1829 283.8 C1827.9 285.6 1824.7 291.6 1822.5 294.5 C1820.3 297.4 1816.4 298.5 1816.1 301 C1815.8 303.5 1821.1 306.4 1820.4 309.6 C1819.7 312.8 1814.6 317 1811.7 320.4 C1808.8 323.8 1803.8 326.5 1803.1 330.1 C1802.4 333.7 1804.9 340 1807.4 342 C1809.9 344 1815.1 342.7 1818.2 342 C1821.3 341.3 1825.4 336.6 1825.8 337.7 C1826.2 338.8 1823.1 345.3 1820.4 348.5 C1817.7 351.7 1812.5 353.5 1809.6 357.1 C1806.7 360.7 1805.6 366.4 1803.1 370 C1800.6 373.6 1797.4 377.6 1794.5 378.7 C1791.6 379.8 1789.1 375.8 1785.9 376.5 C1782.7 377.2 1775.1 381.2 1775.1 383 C1775.1 384.8 1784.1 386.6 1785.9 387.3"/>
<path d="M1714.7 372.2 C1715.8 370.8 1717.9 366.1 1721.1 363.6 C1724.3 361.1 1730.5 357.8 1734.1 357.1 C1737.7 356.4 1742 357.9 1742.7 359.3 C1743.4 360.7 1740.9 363.9 1738.4 365.7 C1735.9 367.5 1730.8 368.4 1727.6 370 C1724.4 371.6 1721.2 375 1719 375.4 C1716.8 375.8 1715.4 372.7 1714.7 372.2"/>
<path d="M1742.7 370 C1744.1 368.8 1748.4 363.4 1751.3 362.5 C1754.2 361.6 1756.8 364.5 1760 364.7 C1763.2 364.9 1768.8 362.7 1770.8 363.6 C1772.8 364.5 1773.2 368.2 1771.8 370 C1770.3 371.8 1765.5 373.8 1762.1 374.4 C1758.7 374.9 1754.5 374 1751.3 373.3 C1748.1 372.6 1744.1 370.6 1742.7 370"/>
<path d="M1550.7 310.7 C1551.8 312.3 1554 318.1 1557.2 320.4 C1560.4 322.7 1566.9 324.3 1570.1 324.7 C1573.3 325.1 1577.3 324 1576.6 322.6 C1575.9 321.2 1569 318.3 1565.8 316.1 C1562.6 313.9 1559.7 310.5 1557.2 309.6 C1554.7 308.7 1551.8 310.5 1550.7 310.7"/>
<path d="M1798.8 371.5 C1797.5 372.3 1794.9 375.7 1791.1 376.2 C1787.2 376.7 1779 374.1 1775.7 374.6 C1772.4 375.1 1770.6 377.6 1771.1 379.2 C1771.6 380.8 1776 383.2 1778.8 383.9 C1781.6 384.5 1785.4 382.3 1788 383.1 C1790.6 383.9 1794.5 386.6 1794.2 388.5 C1794 390.4 1790.1 392.9 1786.5 394.7 C1782.9 396.5 1777.5 397.2 1772.6 399.3 C1767.7 401.4 1761.8 404.2 1757.2 407 C1752.6 409.8 1748.8 413.4 1744.9 416.2 C1741.1 419 1736.5 420.8 1734.1 423.9 C1731.7 427 1730.3 431.6 1730.3 434.7 C1730.3 437.8 1732.2 442.4 1734.1 442.4 C1736 442.4 1739.3 435.8 1741.8 434.7 C1744.2 433.6 1747.9 433.4 1748.8 435.5 C1749.7 437.6 1748.1 443.3 1747.2 447 C1746.3 450.7 1744.4 455.2 1743.4 457.8 C1742.4 460.4 1740.5 460.1 1741 462.4 C1741.5 464.7 1744.5 468.3 1746.4 471.7 C1748.3 475.1 1750.8 479.2 1752.6 482.5 C1754.4 485.8 1755.7 489.9 1757.2 491.7 C1758.7 493.5 1760.2 491.8 1761.8 493.3 C1763.3 494.9 1765.7 499.7 1766.5 501"/>
<path d="M1715.6 511.8 C1715.1 512.3 1713.4 512.8 1712.5 514.8 C1711.6 516.8 1711 520.5 1710.2 524.1 C1709.4 527.7 1709.1 534.9 1707.9 536.4 C1706.8 537.9 1704.8 535.3 1703.3 533.3 C1701.8 531.2 1700.5 526.9 1698.7 524.1 C1696.9 521.3 1694.6 516.9 1692.5 516.4 C1690.4 515.9 1687.3 519.2 1686.3 521 C1685.3 522.8 1685.3 524.4 1686.3 527.2 C1687.3 530 1690.7 534.7 1692.5 538 C1694.3 541.3 1695.3 545.4 1697.1 547.2 C1698.9 549 1703.5 547.4 1703.3 548.7 C1703 550 1697.6 552.3 1695.6 554.9 C1693.5 557.5 1693 561.3 1691 564.1 C1689 566.9 1685.6 571.5 1683.3 571.8 C1681 572.1 1679.2 568 1677.1 565.7 C1675 563.4 1673 559 1670.9 558 C1668.9 557 1666.6 557.7 1664.8 559.5 C1663 561.3 1661.5 564.7 1660.2 568.8 C1658.9 572.9 1658.4 580.1 1657.1 584.2 C1655.8 588.3 1652.2 590.6 1652.4 593.4 C1652.7 596.2 1655.5 598.3 1658.6 601.1 C1661.7 603.9 1669.4 608.1 1670.9 610.4 C1672.5 612.7 1670.5 615.5 1667.9 615 C1665.3 614.5 1658.6 608.1 1655.5 607.3 C1652.4 606.5 1652 611.2 1649.4 610.4 C1646.8 609.6 1643.7 603.2 1640.1 602.7 C1636.5 602.2 1630.6 605 1627.8 607.3 C1625 609.6 1623.7 614.4 1623.2 616.5 C1622.7 618.6 1624.5 619.3 1624.7 619.9"/>
<path d="M1580 598 C1581.8 597.2 1588.1 592.9 1590.8 593.4 C1593.5 593.9 1595.5 598.3 1596.2 601.1 C1596.9 603.9 1596.6 608.7 1594.7 610.4 C1592.8 612.1 1587 612.1 1584.7 611.1 C1582.4 610.1 1581.6 606.4 1580.8 604.2 C1580 602 1580.1 599 1580 598"/>
<path d="M1630 635.6 C1628.8 634.8 1625.3 631.2 1622.8 630.9 C1620.3 630.6 1616.9 635 1615.1 634 C1613.3 633 1613.3 628.1 1612 624.8 C1610.7 621.5 1608.8 614.8 1607.3 614 C1605.8 613.2 1603.7 617.9 1602.7 620.2 C1601.7 622.5 1602.2 624.6 1601.2 627.9 C1600.2 631.2 1597.6 636.4 1596.6 640.2 C1595.6 644.1 1596.3 648.7 1595 651 C1593.7 653.3 1590.4 655.4 1588.9 654.1 C1587.4 652.8 1586.8 646.6 1585.8 643.3 C1584.8 639.9 1584.2 637.1 1582.7 634 C1581.2 630.9 1578.5 627.1 1576.5 624.8 C1574.5 622.5 1574.5 620.5 1570.4 620.2 C1566.3 619.9 1554 621.2 1551.9 623.2 C1549.8 625.2 1556.2 629.1 1558 632.5 C1559.8 635.9 1560.6 640.2 1562.7 643.3 C1564.8 646.4 1568.4 649.2 1570.4 651 C1572.5 652.8 1575.5 652.8 1575 654.1 C1574.5 655.4 1570.9 657.7 1567.3 658.7 C1563.7 659.7 1556.7 658.9 1553.4 660.2 C1550.1 661.5 1548.1 664.1 1547.3 666.4 C1546.5 668.7 1550.3 671.8 1548.8 674.1 C1547.2 676.4 1542.4 677.6 1538 680.2 C1533.6 682.8 1527.7 685.9 1522.6 689.5 C1517.5 693.1 1511 698.5 1507.2 701.8 C1503.4 705.1 1502.1 706.9 1499.5 709.5 C1496.9 712.1 1493.1 715.9 1491.8 717.2"/>
<path d="M1492.4 729.3 C1495 729.5 1504.8 729.6 1507.9 730.8 C1511 731.9 1511.2 731.2 1510.9 736.2 C1510.6 741.2 1508.3 755 1506.3 760.9 C1504.2 766.8 1501.9 767.9 1498.6 771.7 C1495.3 775.6 1489.4 780.9 1486.3 784 C1483.2 787.1 1484.2 789.2 1480.1 790.2 C1476 791.2 1465.4 788.9 1461.6 790.2 C1457.8 791.5 1458.8 795.1 1457 797.9 C1455.2 800.7 1453.9 804.3 1450.8 807.1 C1447.7 809.9 1443.9 812.8 1438.5 814.8 C1433.1 816.8 1424.9 817.6 1418.5 819.4 C1412.1 821.2 1403.1 824.6 1400 825.6"/>
<path d="M1438 818.7 C1435.5 818.8 1428.4 818.7 1423.1 819.5 C1417.8 820.3 1413 822.3 1406.1 823.3 C1399.2 824.3 1387.7 825.6 1381.5 825.7 C1375.3 825.8 1373 825.4 1369.1 824.1 C1365.2 822.8 1361.1 820 1358.3 818 C1355.5 816 1354.2 812.1 1352.2 811.8 C1350.2 811.5 1347.2 812.5 1346 816.4 C1344.8 820.2 1345.2 830 1345.2 834.9 C1345.2 839.8 1346.5 843.1 1346 845.7 C1345.5 848.3 1343 846.4 1342.2 850.3 C1341.4 854.1 1340.8 864.2 1341.4 868.8 C1342 873.4 1344.8 874.9 1346 878 C1347.2 881.1 1346.5 888.1 1348.3 887.3 C1350.1 886.5 1354.9 877 1356.8 873.4 C1358.7 869.8 1360.2 867.8 1359.9 865.7 C1359.7 863.7 1357 862.1 1355.3 861.1 C1353.6 860.1 1350.6 861.4 1349.9 859.6 C1349.2 857.8 1350.9 854.4 1351.4 850.3 C1351.9 846.2 1352.5 839.3 1352.9 834.9 C1353.3 830.5 1352.8 824.6 1353.7 824.1 C1354.6 823.6 1357.3 828.5 1358.3 831.8 C1359.3 835.1 1358.6 841 1359.9 844.1 C1361.2 847.2 1364.2 851.6 1366 850.3 C1367.8 849 1368.9 837.4 1370.7 836.4 C1372.5 835.4 1374.8 841.5 1376.8 844.1 C1378.8 846.7 1380.7 849 1383 851.8 C1385.3 854.6 1388.1 858.8 1390.7 861.1 C1393.3 863.4 1395.8 864.4 1398.4 865.7 C1401 867 1404.7 867 1406.1 868.8 C1407.5 870.6 1408.7 875.2 1406.9 876.5 C1405.1 877.8 1398.5 877.8 1395.3 876.5 C1392.1 875.2 1390.4 870.6 1387.6 868.8 C1384.8 867 1381.7 865.2 1378.4 865.7 C1375.1 866.2 1369.7 869.6 1367.6 871.9 C1365.5 874.2 1364.2 877.5 1366 879.6 C1367.8 881.7 1377.1 882.2 1378.4 884.2 C1379.7 886.2 1374.2 889.3 1373.7 891.9 C1373.2 894.5 1375 898.6 1375.3 899.9"/>
<path d="M1373.8 892.6 C1374.5 895.5 1376.3 905.5 1378.1 909.8 C1379.9 914.1 1380.9 917.4 1384.5 918.5 C1388.1 919.6 1396.3 917.8 1399.6 916.3 C1402.8 914.8 1401.1 910.5 1404 909.8 C1406.9 909.1 1411.2 912.2 1416.9 912 C1422.7 911.8 1436.3 907.7 1438.5 908.8 C1440.7 909.9 1434.5 916.2 1429.8 918.5 C1425.1 920.8 1412.6 920.3 1410.4 922.8 C1408.2 925.3 1418.7 931.3 1416.9 933.6 C1415.1 935.9 1403.9 936.4 1399.6 936.8 C1395.3 937.1 1392.4 934.1 1391 935.7 C1389.6 937.3 1392.4 943.8 1391 946.5 C1389.6 949.2 1385.3 951.5 1382.4 951.9 C1379.5 952.3 1376 947.1 1373.8 948.7 C1371.6 950.3 1370.1 959.5 1369.4 961.6"/>
<path d="M1386.1 950 C1384 950.5 1376.5 950.8 1373.7 953.1 C1370.9 955.4 1369.1 960.3 1369.1 963.9 C1369.1 967.5 1373.2 970.6 1373.7 974.7 C1374.2 978.8 1374 985.7 1372.2 988.5 C1370.4 991.3 1366.6 992.9 1363 991.6 C1359.4 990.3 1353.7 980.8 1350.6 980.8 C1347.5 980.8 1346.8 988.5 1344.5 991.6 C1342.2 994.7 1335.8 997 1336.8 999.3 C1337.8 1001.6 1349.3 1003.5 1350.6 1005.5 C1351.9 1007.5 1347.6 1010.6 1344.5 1011.6 C1341.4 1012.6 1336.2 1013.9 1332.1 1011.6 C1328 1009.3 1322.4 996.8 1319.8 997.8 C1317.2 998.8 1319 1012.4 1316.7 1017.8 C1314.4 1023.2 1310.1 1026.2 1306 1030.1 C1301.9 1033.9 1296 1037.6 1292.1 1040.9 C1288.2 1044.2 1281.8 1049.2 1282.8 1050.2 C1283.8 1051.2 1296.7 1045.3 1298.2 1047.1 C1299.8 1048.9 1292.6 1056.5 1292.1 1060.9 C1291.6 1065.3 1292.9 1069.2 1295.2 1073.3 C1297.5 1077.4 1304 1081.5 1306 1085.6 C1308 1089.7 1307.5 1093.5 1307.5 1097.9 C1307.5 1102.3 1307 1108.2 1306 1111.8 C1305 1115.4 1302.1 1118.2 1301.3 1119.5"/>
<path d="M1275.1 962.3 C1273.8 963.8 1268.4 967.8 1267.4 971.6 C1266.4 975.5 1270 980.5 1269 985.4 C1268 990.3 1264.1 995.9 1261.3 1000.8 C1258.5 1005.7 1254.1 1010.1 1252 1014.7 C1249.9 1019.3 1249.2 1024.8 1248.9 1028.6 C1248.7 1032.4 1248.7 1036.5 1250.5 1037.8 C1252.3 1039.1 1257.1 1034.5 1259.7 1036.3 C1262.3 1038.1 1263.6 1044 1265.9 1048.6 C1268.2 1053.2 1271 1058.6 1273.6 1064 C1276.2 1069.4 1279.2 1076.6 1281.3 1081 C1283.3 1085.4 1284.4 1088.7 1285.9 1090.2 C1287.4 1091.7 1290 1092 1290.5 1090.2 C1291 1088.4 1290.3 1083.8 1289 1079.4 C1287.7 1075 1284.8 1068.9 1282.8 1064 C1280.8 1059.1 1278.8 1055.3 1276.7 1050.2 C1274.7 1045.1 1272.3 1038.6 1270.5 1033.2 C1268.7 1027.8 1266.9 1021.4 1265.9 1017.8 C1264.9 1014.2 1263 1012.4 1264.3 1011.6 C1265.6 1010.8 1271.3 1014.7 1273.6 1013.2 C1275.9 1011.7 1276.2 1005.8 1278.2 1002.4 C1280.2 999 1284.6 996.7 1285.9 993.1 C1287.2 989.5 1286.9 984.9 1285.9 980.8 C1284.9 976.7 1281.1 971.6 1279.8 968.5 C1278.5 965.4 1279 963.3 1278.2 962.3 C1277.4 961.3 1275.6 962.3 1275.1 962.3"/>
<path d="M1197.3 1111.8 C1199 1112.3 1204.3 1114.7 1207.3 1114.9 C1210.2 1115.2 1213.5 1114.8 1215 1113.3 C1216.5 1111.8 1215 1105.6 1216.6 1105.6 C1218.1 1105.6 1222 1109.9 1224.3 1113.3 C1226.6 1116.7 1226.3 1122.9 1230.4 1125.7 C1234.5 1128.5 1241.7 1130 1248.9 1130.3 C1256.1 1130.5 1266.4 1127.5 1273.6 1127.2 C1280.8 1126.9 1289 1128.5 1292.1 1128.7"/>
<path d="M1197.3 1111.8 C1199.8 1113.3 1208 1117.2 1212 1121 C1216 1124.8 1219.4 1130.3 1221.2 1134.9 C1223 1139.5 1223 1144.4 1222.7 1148.8 C1222.5 1153.2 1223.6 1157.8 1219.7 1161.1 C1215.8 1164.4 1204 1169 1199.6 1168.8 C1195.2 1168.5 1193.8 1164.5 1193.5 1159.6 C1193.2 1154.7 1198.9 1142.3 1198.1 1139.5 C1197.3 1136.7 1192.9 1141 1188.8 1142.6 C1184.7 1144.1 1178.3 1147.3 1173.4 1148.8 C1168.5 1150.3 1164.2 1150.5 1159.6 1151.8 C1155 1153.1 1146.7 1154.2 1145.7 1156.5 C1144.7 1158.8 1151.9 1165.5 1153.4 1165.7 C1154.9 1166 1153.6 1158 1154.9 1158 C1156.2 1158 1158.5 1164.9 1161.1 1165.7 C1163.7 1166.5 1168.4 1161.3 1170.4 1162.6 C1172.5 1163.9 1171.4 1170.3 1173.4 1173.4 C1175.5 1176.5 1182.7 1179 1182.7 1181.1 C1182.7 1183.1 1175.5 1182.8 1173.4 1185.7 C1171.4 1188.6 1170.9 1196.3 1170.4 1198.4"/>
<path d="M1265.9 1134.9 C1267.4 1135.7 1273 1136.7 1275.1 1139.5 C1277.1 1142.3 1278.5 1147.4 1278.2 1151.8 C1278 1156.2 1274.9 1165.2 1273.6 1165.7 C1272.3 1166.2 1271.8 1160 1270.5 1154.9 C1269.2 1149.8 1266.7 1138.2 1265.9 1134.9"/>
<path d="M1288.2 1138 C1290.4 1139 1299.9 1140.2 1301.3 1144.1 C1302.7 1147.9 1297.2 1156.5 1296.7 1161.1 C1296.2 1165.7 1299 1169.9 1298.2 1171.9 C1297.4 1174 1293.8 1175.2 1292.1 1173.4 C1290.4 1171.6 1288.8 1167 1288.2 1161.1 C1287.6 1155.2 1288.2 1141.8 1288.2 1138"/>
<path d="M1244.3 1159.6 C1245.3 1161.6 1247.7 1170.1 1250.5 1171.9 C1253.3 1173.7 1260.3 1168.8 1261.3 1170.3 C1262.3 1171.8 1254.5 1177.8 1256.6 1181.1 C1258.6 1184.4 1273.1 1188.1 1273.6 1190.4 C1274.1 1192.7 1263.8 1195.8 1259.7 1195 C1255.6 1194.2 1252.8 1188 1248.9 1185.7 C1245.1 1183.4 1237.1 1183.4 1236.6 1181.1 C1236.1 1178.8 1244.6 1175.5 1245.9 1171.9 C1247.2 1168.3 1244.6 1161.6 1244.3 1159.6"/>
<path d="M1238.2 1190.4 C1239.5 1191.7 1244.6 1197.1 1245.9 1198.4"/>
<path d="M1356.8 1184.2 C1357.3 1182.2 1357.9 1174.7 1359.9 1171.9 C1362 1169.1 1365.8 1169.3 1369.1 1167.3 C1372.4 1165.2 1377.6 1160.1 1379.9 1159.6 C1382.2 1159.1 1383.8 1162.2 1383 1164.2 C1382.2 1166.2 1378.4 1169.3 1375.3 1171.9 C1372.2 1174.5 1367.6 1177.5 1364.5 1179.6 C1361.4 1181.6 1358.1 1183.4 1356.8 1184.2"/>
<path d="M1393 1165.7 C1393.4 1164.4 1394 1159.5 1395.3 1158 C1396.6 1156.5 1398.8 1156 1400.7 1156.5 C1402.6 1157 1405.6 1159 1406.9 1161.1 C1408.2 1163.1 1408.7 1166.4 1408.4 1168.8 C1408.1 1171.2 1406.7 1174.4 1405.3 1175.7 C1403.9 1177 1401.7 1177.1 1399.9 1176.5 C1398.1 1175.9 1395.7 1173.7 1394.5 1171.9 C1393.3 1170.1 1393.2 1166.7 1393 1165.7"/>
<path d="M1138.8 1073.3 C1140.5 1071.5 1146.6 1062.5 1148.8 1062.5 C1151 1062.5 1152.4 1068.9 1151.9 1073.3 C1151.4 1077.7 1147.9 1084.6 1145.7 1088.7 C1143.5 1092.8 1140 1096.4 1138.8 1097.9"/>
</g>
<path d="M1539.9 48.6 L1539.9 51.2 L1559.4 63.7 L1587.4 81 L1615.4 95 L1641.3 126.3 L1669.4 151.1 L1689.9 158.6 L1698.5 171.6 L1716.8 175.9 L1735.2 183.5 L1775.1 181.3 L1806.4 187.8 L1822.5 213.7 L1829 238.5 L1835.5 266.5 L1840.9 288.1 L1848.4 316.1 L1846.3 342 L1845.2 363.6 L1845.5 370 L1838.8 390 L1832 413.1 L1825.5 430.1 L1806.5 456.3 L1788 479.4 L1781.9 480.9 L1780.3 490.2 L1766.5 508.7 L1748 528.7 L1723.3 539.5 L1701.8 565.7 L1697.1 567.2 L1697.1 574.9 L1689.4 585.7 L1684.8 582.6 L1681.7 598 L1674 615 L1667.2 625.9 L1659.4 640 L1653.6 652.4 L1644.9 661.8 L1634.7 670.6 L1625.9 679.3 L1620.8 686.6 L1615.7 686.6 L1613.5 682.2 L1612.8 674.2 L1604.1 665.5 L1596.8 672 L1591 674.2 L1593.9 677.9 L1592.4 685.1 L1591 695.3 L1586.5 703.4 L1583.5 709.9 L1581.5 717.2 L1579.3 725.9 L1582 734.7 L1583.6 745 L1584.1 757.8 L1581.8 776.3 L1579.5 794.8 L1581.8 813.3 L1584.9 831.8 L1588 850.2 L1589.5 865.6 L1584.9 888.8 L1583 900 L1576.6 927.3 L1570.2 956.4 L1572.9 989.2 L1556.6 1005.6 L1543.8 1022 L1538.3 1034.7 L1536.5 1060.2 L1538.3 1089.3 L1533.8 1109.3 L1518.3 1120.3 L1512.9 1134.8 L1507.4 1149.4 L1498.3 1156.7 L1494.7 1171.2 L1480.1 1184 L1471 1193.1 L1466 1203" fill="none" stroke="#000" stroke-width="4.9" stroke-linejoin="round" stroke-linecap="round"/>
<path d="M1599.7 680.8 L1608.4 685.1 L1605.5 691 L1598.3 696.8 L1591 698.3 L1593.9 687.3Z" fill="#000" stroke="#000" stroke-width="2" stroke-linejoin="round"/>
<circle cx="1586.6" cy="717.2" r="3.8" fill="#000"/>
<path d="M1216.3 50 L1234.5 50 L1223.7 61 L1218.1 65.6 L1215 63.4 L1216 56Z" fill="#000"/>
<path d="M1747.2 528.7 L1743.5 525.3 L1739.9 521.9 L1737.1 517.6 L1732.9 515 L1729 512 L1724.4 509.9 L1719.7 508 L1715.7 505 L1711.8 501.8 L1709.9 497.1 L1706.8 493.5 L1702.7 490.9 L1698.8 487.7 L1695 484.4 L1690.1 482.9 L1685.6 480.9 L1681.3 478.3 L1676.8 475.9 L1671.9 474.7 L1667.2 473.2 L1662.9 470.4 L1657.7 469.9 L1653.9 466.3 L1649 465 L1644.4 463 L1639.9 460.8 L1635.5 458.2 L1632.3 454.8 L1629.1 450.9 L1627.5 446.1 L1626.1 441.4 L1624.8 436.7 L1622.1 433.1 L1617.3 431.4 L1613.2 429.5 L1608.3 430.2 L1604 428.2 L1599.7 425.7 L1595.5 423 L1591.7 419.7 L1587.1 417.9 L1582.3 416.3 L1578.1 413.6 L1573.6 411.5 L1569.1 409.3 L1565.3 406 L1560.7 404 L1556 403 L1551.3 405.2 L1546.9 407.8 L1541.7 408.6 L1539.8 412.8 L1538.5 417.5 L1533.6 418.6 L1529.3 421 L1526 423.3 L1526.8 428.5 L1523.1 431.5 L1518.8 434 L1514.8 436.9 L1510.2 437.9 L1505.4 438.9 L1501.7 440.7 L1500.7 445.6 L1499.5 450.5 L1497.1 454.4 L1492.3 456 L1487.8 458.1 L1483.8 461.3 L1479.3 463.4 L1474.7 464.3 L1470.1 461.8 L1465.3 460.5 L1460.4 459 L1455.4 458.5 L1450.7 458.9 L1447.2 462.3 L1443.3 465.5 L1442.5 470.4 L1440.4 474.6 L1435.6 476.3 L1430.8 477.6 L1425.9 478.9 L1420.8 477.4 L1415.8 478.4 L1410.8 478.1 L1405.8 477.7 L1400.8 476.9 L1395.9 478.5 L1390.8 478 L1385.8 478 L1382 481.2 L1378.8 485.2 L1377.1 489.9 L1375.6 494.6 L1371.7 497.9 L1368.2 501.4 L1364.7 505 L1363 509.8 L1362.9 515 L1361.5 519.8 L1359.6 524.5 L1356.7 528.6 L1353.4 532.4 L1350.3 536.3 L1347.9 540.7 L1345.3 545.1 L1341.3 548.2 L1337.8 551.8 L1333.3 554.1 L1328.6 555.7 L1324.2 558.4 L1321.7 562.8 L1318.7 566.9 L1317 571.6 L1316.9 576.7 L1314.1 581.1 L1312.6 585.8 L1310.7 590.4 L1308.1 594.3 L1305.2 598.3 L1303.4 602.3 L1304.6 607.1 L1304.6 612.2 L1307.5 616.6 L1307.6 621.5 L1307.2 626.1 L1309.4 630.5 L1311.5 635 L1314.3 639.3 L1312.8 644.3 L1311.7 648.6 L1313.5 653.1 L1314 658.1 L1315.6 663.1 L1312.9 667.1 L1310.1 671.1 L1307.5 675.4 L1304.7 679.4 L1302.1 683.6 L1300 688 L1300.1 693 L1298.5 697.9 L1297.9 702.8 L1298.5 707.9 L1298.3 712.9 L1299.5 717.9 L1298.5 722.7 L1295.1 726.6 L1292.4 730.7 L1290.2 735.2 L1290.2 740.3 L1289.2 745.2 L1286.3 749.7 L1285.9 754.7 L1285.2 759.7 L1283.1 764.3 L1281.6 769.1 L1278.2 772.9 L1274.8 776.8 L1272.9 781.4 L1271.2 786.2 L1270.5 791.1 L1269.4 796 L1268.8 801 L1266.7 805.6 L1266.1 810.6 L1263.7 815 L1262.2 819.8 L1260.1 824.3 L1256.8 828.2 L1254.1 832.3 L1251.4 836.5 L1248.2 840.3 L1245 844 L1241.7 847.7 L1238.8 851.9 L1234.5 854.6 L1230.5 857.5 L1226.5 860.7 L1222.3 863.3 L1217.8 865.6 L1213.7 868.3 L1209.6 871.2 L1206.2 874.7 L1202.6 877.7 L1197.3 878.6 L1195.6 883.1 L1195.7 888.2 L1197 893.2 L1197.7 898.2 L1197.2 903.2 L1196.3 908.1 L1195.4 912.9 L1196.6 917.4 L1199 921.8 L1201.8 925.9 L1204.6 930 L1206.4 934.7 L1208.2 939.4 L1211.4 943.4 L1212.5 948.3 L1211.4 952.6 L1209.4 957 L1207.2 961.5 L1205.5 966.2 L1204.1 971.1 L1201.3 975.3 L1200.2 980.2 L1199.1 985 L1198.8 989.9 L1198.5 994.7 L1195.2 998.5 L1191.2 1001.7 L1189.2 1006.3 L1188.5 1011.4 L1187 1016.2 L1184.8 1020.8 L1181.2 1024.4 L1178.9 1028.9 L1178.4 1034 L1176.8 1038.5 L1181.4 1041.2 L1185.6 1043 L1186.9 1047.8 L1187.5 1052.7 L1189.4 1057.4 L1190.8 1062.2 L1190.8 1067.4 L1193.1 1071.9 L1194.8 1076.4 L1190.8 1079.5 L1187.9 1083.6 L1183.8 1086.6 L1180.3 1090.2 L1178.1 1094.7 L1176.3 1099.3 L1174.4 1103.9 L1172.5 1108.5 L1169.7 1112.7 L1168 1117.4 L1165.5 1121.8 L1163.7 1126.5 L1160.3 1130.3 L1158.9 1135.2 L1156.5 1139.6 L1153.4 1143.3 L1148.9 1145.4 L1144.9 1148.5 L1140.1 1150 L1136 1153" fill="none" stroke="#000" stroke-width="8" stroke-linejoin="round" stroke-linecap="round"/>
</g>
<rect x="1140.4" y="51.3" width="805.6" height="1147.7" fill="none" stroke="#6b6767" stroke-width="1.3"/>
<g fill="#000"><circle cx="1449.3" cy="85.9" r="11.6"/><circle cx="1483.8" cy="152.2" r="11.6"/><circle cx="1587" cy="128" r="11.6"/><circle cx="1566.9" cy="199.6" r="11.6"/><circle cx="1613.7" cy="216.5" r="11.6"/><circle cx="1693.1" cy="278.8" r="11.6"/><circle cx="1823.6" cy="258.3" r="11.6"/><circle cx="1840.2" cy="289.6" r="11.6"/><circle cx="1843.7" cy="313.5" r="11.6"/><circle cx="1846.7" cy="353.9" r="11.6"/><circle cx="1609.4" cy="370.5" r="11.6"/><circle cx="1738" cy="392.8" r="11.6"/><circle cx="1618.1" cy="475.2" r="11.6"/><circle cx="1486.3" cy="364" r="11.6"/><circle cx="1338.2" cy="382.2" r="11.6"/><circle cx="1360" cy="416.5" r="11.6"/><circle cx="1172.3" cy="470.1" r="11.6"/><circle cx="1360.5" cy="497.2" r="11.6"/><circle cx="1287.7" cy="552.5" r="11.6"/><circle cx="1338.5" cy="548" r="11.6"/><circle cx="1345.3" cy="568.8" r="11.6"/><circle cx="1488.6" cy="581.8" r="11.6"/><circle cx="1425.3" cy="605.7" r="11.6"/><circle cx="1499.7" cy="613.7" r="11.6"/><circle cx="1418.4" cy="658.7" r="11.6"/><circle cx="1435.8" cy="676.8" r="11.6"/><circle cx="1491.6" cy="717.7" r="11.6"/><circle cx="1399.2" cy="730.9" r="11.6"/><circle cx="1452.3" cy="749.8" r="11.6"/><circle cx="1511.8" cy="749.8" r="11.6"/><circle cx="1551.1" cy="732.9" r="11.6"/><circle cx="1359.6" cy="758" r="11.6"/><circle cx="1450.8" cy="785.8" r="11.6"/><circle cx="1256" cy="814.3" r="11.6"/><circle cx="1395.2" cy="812.2" r="11.6"/><circle cx="1393.5" cy="828.8" r="11.6"/><circle cx="1319.8" cy="850.8" r="11.6"/><circle cx="1434.3" cy="848.4" r="11.6"/><circle cx="1556.3" cy="776.3" r="11.6"/><circle cx="1563.4" cy="787.1" r="11.6"/><circle cx="1574.7" cy="802.8" r="11.6"/><circle cx="1556.3" cy="833.4" r="11.6"/><circle cx="1545.5" cy="842" r="11.6"/><circle cx="1571.5" cy="850.8" r="11.6"/><circle cx="1586" cy="860.3" r="11.6"/><circle cx="1522.2" cy="882" r="11.6"/><circle cx="1504.8" cy="1036.2" r="11.6"/><circle cx="1533" cy="1047.1" r="11.6"/><circle cx="1512.9" cy="1083.2" r="11.6"/><circle cx="1352.9" cy="1121" r="11.6"/></g>
<g class="it" font-size="27.5"><text x="1397.3" y="97.2">L1</text><text x="1434.4" y="181.3">L2</text><text x="1529.8" y="139.7">L4</text><text x="1529.8" y="237.4">L3</text><text x="1596.3" y="253.6">L5</text><text x="1648.5" y="307.1">L6</text><text x="1840.5" y="258.3">L7</text><text x="1859" y="292">L8</text><text x="1862.7" y="322.2">L9</text><text x="1862.7" y="363.6">L10</text><text x="1631.9" y="373.9">L11</text><text x="1681.4" y="430.3">L12</text><text x="1596.1" y="514.1">L13</text><text x="1462.5" y="401">L14</text><text x="1271.6" y="374.4">L15</text><text x="1380.5" y="430.6">L16</text><text x="1189.4" y="458.4">L17</text><text x="1298.1" y="505.3">L18</text><text x="1221.3" y="564.2">L26</text><text x="1364.6" y="551">L24</text><text x="1367.1" y="577.3">L25</text><text x="1495.1" y="558.2">L19</text><text x="1428.1" y="638.7">L23</text><text x="1525.2" y="619.4">L20</text><text x="1360.9" y="659.2">L27</text><text x="1454.4" y="681.3">L22</text><text x="1504.5" y="706.1">L21</text><text x="1349.7" y="721.8">L37</text><text x="1424.3" y="734.5">L28</text><text x="1479.8" y="785.2">L38</text><text x="1571.8" y="741.8">L39</text><text x="1293.7" y="765.5">L29</text><text x="1428.9" y="821.5">L36</text><text x="1194.6" y="821.2">L30</text><text x="1295.7" y="818.7">L31-33</text><text x="1280.1" y="891.3">L34</text><text x="1394.9" y="888.1">L35</text><text x="1596.2" y="789.3">L40-42</text><text x="1610.5" y="868.6">L43-46</text><text x="1494.9" y="923.7">L47</text><text x="1472.2" y="1019.1">L48</text><text x="1552.8" y="1058.4">L49</text><text x="1449.3" y="1090.3">L50</text><text x="1291" y="1133.5">L51</text></g>
</g>
<g id="panelC">
<rect x="22" y="1246.6" width="1922" height="296.4" fill="#2465ab"/>
<path d="M22 1543 L22 1543 L46 1543 L46 1543 L70 1543 L70 1543 L94.1 1543 L94.1 1543 L118.1 1543 L118.1 1543 L142.1 1543 L142.1 1485.2 L166.1 1485.2 L166.1 1543 L190.2 1543 L190.2 1538.6 L214.2 1538.6 L214.2 1543 L238.2 1543 L238.2 1540.3 L262.2 1540.3 L262.2 1543 L286.3 1543 L286.3 1528.8 L310.3 1528.8 L310.3 1543 L334.3 1543 L334.3 1518.7 L358.3 1518.7 L358.3 1543 L382.4 1543 L382.4 1510.4 L406.4 1510.4 L406.4 1506.8 L430.4 1506.8 L430.4 1516.9 L454.4 1516.9 L454.4 1473.6 L478.5 1473.6 L478.5 1384.4 L502.5 1384.4 L502.5 1406.1 L526.5 1406.1 L526.5 1387.7 L550.5 1387.7 L550.5 1310.6 L574.6 1310.6 L574.6 1340.9 L598.6 1340.9 L598.6 1316 L622.6 1316 L622.6 1397.8 L646.6 1397.8 L646.6 1401.3 L670.7 1401.3 L670.7 1359.5 L694.7 1359.5 L694.7 1349.7 L718.7 1349.7 L718.7 1342.9 L742.8 1342.9 L742.8 1367.5 L766.8 1367.5 L766.8 1321 L790.8 1321 L790.8 1265.6 L814.8 1265.6 L814.8 1259 L838.8 1259 L838.8 1255.5 L862.9 1255.5 L862.9 1276.8 L886.9 1276.8 L886.9 1273.3 L910.9 1273.3 L910.9 1283.6 L934.9 1283.6 L934.9 1248.7 L959 1248.7 L959 1250.2 L983 1250.2 L983 1247.2 L1007 1247.2 L1007 1247.2 L1031 1247.2 L1031 1247.2 L1055.1 1247.2 L1055.1 1255.2 L1079.1 1255.2 L1079.1 1247.2 L1103.1 1247.2 L1103.1 1247.2 L1127.1 1247.2 L1127.1 1247.2 L1151.2 1247.2 L1151.2 1247.2 L1175.2 1247.2 L1175.2 1247.2 L1199.2 1247.2 L1199.2 1247.2 L1223.2 1247.2 L1223.2 1255.2 L1247.3 1255.2 L1247.3 1247.2 L1271.3 1247.2 L1271.3 1247.2 L1295.3 1247.2 L1295.3 1257 L1319.3 1257 L1319.3 1247.2 L1343.4 1247.2 L1343.4 1247.2 L1367.4 1247.2 L1367.4 1259 L1391.4 1259 L1391.4 1297.3 L1415.4 1297.3 L1415.4 1247.2 L1439.5 1247.2 L1439.5 1247.2 L1463.5 1247.2 L1463.5 1262 L1487.5 1262 L1487.5 1248.7 L1511.5 1248.7 L1511.5 1247.2 L1535.6 1247.2 L1535.6 1247.2 L1559.6 1247.2 L1559.6 1247.2 L1583.6 1247.2 L1583.6 1248.1 L1607.6 1248.1 L1607.6 1247.2 L1631.7 1247.2 L1631.7 1247.2 L1655.7 1247.2 L1655.7 1247.2 L1679.7 1247.2 L1679.7 1247.2 L1703.8 1247.2 L1703.8 1247.2 L1727.8 1247.2 L1727.8 1306.2 L1751.8 1306.2 L1751.8 1314.5 L1775.8 1314.5 L1775.8 1278.9 L1799.8 1278.9 L1799.8 1302.3 L1823.9 1302.3 L1823.9 1307.4 L1847.9 1307.4 L1847.9 1310.9 L1871.9 1310.9 L1871.9 1290.5 L1895.9 1290.5 L1895.9 1283.6 L1920 1283.6 L1920 1314.5 L1944 1314.5 L1944 1543Z" fill="#d92a63"/>
<path d="M22 1543.5 H1944" stroke="#9a9a9a" stroke-width="1"/>
<path d="M22 1543 v4 M46 1543 v4 M70 1543 v4 M94.1 1543 v4 M118.1 1543 v4 M142.1 1543 v4 M166.1 1543 v4 M190.2 1543 v4 M214.2 1543 v4 M238.2 1543 v4 M262.2 1543 v4 M286.3 1543 v4 M310.3 1543 v4 M334.3 1543 v4 M358.3 1543 v4 M382.4 1543 v4 M406.4 1543 v4 M430.4 1543 v4 M454.4 1543 v4 M478.5 1543 v4 M502.5 1543 v4 M526.5 1543 v4 M550.5 1543 v4 M574.6 1543 v4 M598.6 1543 v4 M622.6 1543 v4 M646.6 1543 v4 M670.7 1543 v4 M694.7 1543 v4 M718.7 1543 v4 M742.8 1543 v4 M766.8 1543 v4 M790.8 1543 v4 M814.8 1543 v4 M838.8 1543 v4 M862.9 1543 v4 M886.9 1543 v4 M910.9 1543 v4 M934.9 1543 v4 M959 1543 v4 M983 1543 v4 M1007 1543 v4 M1031 1543 v4 M1055.1 1543 v4 M1079.1 1543 v4 M1103.1 1543 v4 M1127.1 1543 v4 M1151.2 1543 v4 M1175.2 1543 v4 M1199.2 1543 v4 M1223.2 1543 v4 M1247.3 1543 v4 M1271.3 1543 v4 M1295.3 1543 v4 M1319.3 1543 v4 M1343.4 1543 v4 M1367.4 1543 v4 M1391.4 1543 v4 M1415.4 1543 v4 M1439.5 1543 v4 M1463.5 1543 v4 M1487.5 1543 v4 M1511.5 1543 v4 M1535.6 1543 v4 M1559.6 1543 v4 M1583.6 1543 v4 M1607.6 1543 v4 M1631.7 1543 v4 M1655.7 1543 v4 M1679.7 1543 v4 M1703.8 1543 v4 M1727.8 1543 v4 M1751.8 1543 v4 M1775.8 1543 v4 M1799.8 1543 v4 M1823.9 1543 v4 M1847.9 1543 v4 M1871.9 1543 v4 M1895.9 1543 v4 M1920 1543 v4 M1944 1543 v4" stroke="#b8b8b8" stroke-width="1" fill="none"/>
<g font-size="24" text-anchor="end"><text transform="translate(40.8 1554) rotate(-90)">1</text><text transform="translate(64.8 1554) rotate(-90)">2</text><text transform="translate(88.9 1554) rotate(-90)">3</text><text transform="translate(113 1554) rotate(-90)">4</text><text transform="translate(137 1554) rotate(-90)">5</text><text transform="translate(161.1 1554) rotate(-90)">6</text><text transform="translate(185.1 1554) rotate(-90)">7</text><text transform="translate(209.1 1554) rotate(-90)">8</text><text transform="translate(233.2 1554) rotate(-90)">9</text><text transform="translate(257.2 1554) rotate(-90)">10</text><text transform="translate(281.3 1554) rotate(-90)">11</text><text transform="translate(305.4 1554) rotate(-90)">12</text><text transform="translate(329.4 1554) rotate(-90)">13</text><text transform="translate(353.5 1554) rotate(-90)">14</text><text transform="translate(377.5 1554) rotate(-90)">15</text><text transform="translate(401.6 1554) rotate(-90)">16</text><text transform="translate(425.6 1554) rotate(-90)">17</text><text transform="translate(449.7 1554) rotate(-90)">18</text><text transform="translate(473.7 1554) rotate(-90)">19</text><text transform="translate(497.8 1554) rotate(-90)">20</text><text transform="translate(521.8 1554) rotate(-90)">21</text><text transform="translate(545.9 1554) rotate(-90)">22</text><text transform="translate(569.9 1554) rotate(-90)">23</text><text transform="translate(593.9 1554) rotate(-90)">24</text><text transform="translate(618 1554) rotate(-90)">25</text><text transform="translate(642 1554) rotate(-90)">26</text><text transform="translate(666.1 1554) rotate(-90)">27</text><text transform="translate(690.1 1554) rotate(-90)">28</text><text transform="translate(714.2 1554) rotate(-90)">29</text><text transform="translate(738.2 1554) rotate(-90)">30</text><text transform="translate(762.3 1554) rotate(-90)">31</text><text transform="translate(786.4 1554) rotate(-90)">32</text><text transform="translate(810.4 1554) rotate(-90)">33</text><text transform="translate(834.4 1554) rotate(-90)">34</text><text transform="translate(858.5 1554) rotate(-90)">35</text><text transform="translate(882.5 1554) rotate(-90)">36</text><text transform="translate(906.6 1554) rotate(-90)">37</text><text transform="translate(930.6 1554) rotate(-90)">38</text><text transform="translate(954.7 1554) rotate(-90)">39</text><text transform="translate(978.8 1554) rotate(-90)">40</text><text transform="translate(1002.8 1554) rotate(-90)">41</text><text transform="translate(1026.9 1554) rotate(-90)">42</text><text transform="translate(1050.9 1554) rotate(-90)">43</text><text transform="translate(1075 1554) rotate(-90)">44</text><text transform="translate(1099 1554) rotate(-90)">45</text><text transform="translate(1123 1554) rotate(-90)">46</text><text transform="translate(1147.1 1554) rotate(-90)">47</text><text transform="translate(1171.2 1554) rotate(-90)">48</text><text transform="translate(1195.2 1554) rotate(-90)">49</text><text transform="translate(1219.2 1554) rotate(-90)">50</text><text transform="translate(1243.3 1554) rotate(-90)">51</text><text transform="translate(1267.3 1554) rotate(-90)">52</text><text transform="translate(1291.4 1554) rotate(-90)">53</text><text transform="translate(1315.5 1554) rotate(-90)">54</text><text transform="translate(1339.5 1554) rotate(-90)">55</text><text transform="translate(1363.5 1554) rotate(-90)">56</text><text transform="translate(1387.6 1554) rotate(-90)">57</text><text transform="translate(1411.7 1554) rotate(-90)">58</text><text transform="translate(1435.7 1554) rotate(-90)">59</text><text transform="translate(1459.8 1554) rotate(-90)">60</text><text transform="translate(1483.8 1554) rotate(-90)">61</text><text transform="translate(1507.8 1554) rotate(-90)">62</text><text transform="translate(1531.9 1554) rotate(-90)">63</text><text transform="translate(1556 1554) rotate(-90)">64</text><text transform="translate(1580 1554) rotate(-90)">65</text><text transform="translate(1604 1554) rotate(-90)">66</text><text transform="translate(1628.1 1554) rotate(-90)">67</text><text transform="translate(1652.2 1554) rotate(-90)">68</text><text transform="translate(1676.2 1554) rotate(-90)">69</text><text transform="translate(1700.2 1554) rotate(-90)">70</text><text transform="translate(1724.3 1554) rotate(-90)">71</text><text transform="translate(1748.3 1554) rotate(-90)">72</text><text transform="translate(1772.4 1554) rotate(-90)">73</text><text transform="translate(1796.5 1554) rotate(-90)">74</text><text transform="translate(1820.5 1554) rotate(-90)">75</text><text transform="translate(1844.5 1554) rotate(-90)">76</text><text transform="translate(1868.6 1554) rotate(-90)">77</text><text transform="translate(1892.7 1554) rotate(-90)">78</text><text transform="translate(1916.7 1554) rotate(-90)">79</text><text transform="translate(1940.8 1554) rotate(-90)">80</text></g>
<path d="M23.8 1583 V1596.6 H91.6 V1583 M143.9 1583 V1596.6 H187.7 V1583 M216 1583 V1596.6 H259.8 V1583 M408.2 1583 V1596.6 H451.9 V1583 M480.3 1583 V1596.6 H524 V1583 M552.3 1583 V1596.6 H596.1 V1583 M624.4 1583 V1596.6 H668.2 V1583 M720.5 1583 V1596.6 H764.3 V1583 M816.6 1583 V1596.6 H860.4 V1583 M888.7 1583 V1596.6 H933.3 V1583 M935.1 1583 V1596.6 H1005.4 V1583 M1007.2 1583 V1596.6 H1052.6 V1583 M1080.9 1583 V1596.6 H1148.7 V1583 M1177 1583 V1596.6 H1220.8 V1583 M1321.1 1583 V1596.6 H1388.9 V1583 M1513.3 1583 V1596.6 H1558 V1583 M1559.8 1583 V1596.6 H1630.1 V1583 M1631.9 1583 V1596.6 H1678.1 V1583 M1679.9 1583 V1596.6 H1725.3 V1583 M1753.6 1583 V1596.6 H1798.2 V1583 M1800 1583 V1596.6 H1870.3 V1583 M1872.1 1583 V1596.6 H1941.5 V1583" fill="none" stroke="#000" stroke-width="3.8" stroke-linejoin="miter"/>
<g class="it" font-size="23.5" text-anchor="end"><text transform="translate(65.1 1601.5) rotate(-90)">L1-</text><text transform="translate(112.5 1586.5) rotate(-90)">L2-</text><text transform="translate(136.5 1586.5) rotate(-90)">L3-</text><text transform="translate(169.2 1601.5) rotate(-90)">L4-</text><text transform="translate(208.6 1586.5) rotate(-90)">L5-</text><text transform="translate(239 1601.5) rotate(-90)">L6-</text><text transform="translate(280.8 1586.5) rotate(-90)">L7-</text><text transform="translate(304.9 1586.5) rotate(-90)">L8-</text><text transform="translate(328.9 1586.5) rotate(-90)">L9-</text><text transform="translate(353 1586.5) rotate(-90)">L10-</text><text transform="translate(377 1586.5) rotate(-90)">L11-</text><text transform="translate(401.1 1586.5) rotate(-90)">L12-</text><text transform="translate(433.4 1601.5) rotate(-90)">L13-</text><text transform="translate(473.2 1586.5) rotate(-90)">L14-</text><text transform="translate(509.2 1601.5) rotate(-90)">L15-</text><text transform="translate(545.4 1586.5) rotate(-90)">L16-</text><text transform="translate(579.5 1601.5) rotate(-90)">L17-</text><text transform="translate(617.5 1586.5) rotate(-90)">L18-</text><text transform="translate(652.5 1601.5) rotate(-90)">L19-</text><text transform="translate(689.6 1586.5) rotate(-90)">L20-</text><text transform="translate(713.7 1586.5) rotate(-90)">L21-</text><text transform="translate(751.2 1601.5) rotate(-90)">L22-</text><text transform="translate(785.9 1586.5) rotate(-90)">L23-</text><text transform="translate(809.9 1586.5) rotate(-90)">L24-</text><text transform="translate(844.6 1601.5) rotate(-90)">L25-</text><text transform="translate(882 1586.5) rotate(-90)">L26-</text><text transform="translate(915.8 1601.5) rotate(-90)">L27-</text><text transform="translate(973.1 1601.5) rotate(-90)">L28-</text><text transform="translate(1039.7 1601.5) rotate(-90)">L29-</text><text transform="translate(1074.5 1586.5) rotate(-90)">L30-</text><text transform="translate(1119.9 1601.5) rotate(-90)">L31-</text><text transform="translate(1170.7 1586.5) rotate(-90)">L32-</text><text transform="translate(1204.9 1601.5) rotate(-90)">L33-</text><text transform="translate(1242.8 1586.5) rotate(-90)">L34-</text><text transform="translate(1266.8 1586.5) rotate(-90)">L35-</text><text transform="translate(1290.9 1586.5) rotate(-90)">L36-</text><text transform="translate(1315 1586.5) rotate(-90)">L37-</text><text transform="translate(1367.6 1601.5) rotate(-90)">L38-</text><text transform="translate(1411.2 1586.5) rotate(-90)">L39-</text><text transform="translate(1435.2 1586.5) rotate(-90)">L40-</text><text transform="translate(1459.2 1586.5) rotate(-90)">L41-</text><text transform="translate(1483.3 1586.5) rotate(-90)">L42-</text><text transform="translate(1507.3 1586.5) rotate(-90)">L43-</text><text transform="translate(1546.8 1601.5) rotate(-90)">L44-</text><text transform="translate(1601.1 1601.5) rotate(-90)">L45-</text><text transform="translate(1663 1601.5) rotate(-90)">L46-</text><text transform="translate(1710.2 1601.5) rotate(-90)">L47-</text><text transform="translate(1747.8 1586.5) rotate(-90)">L48-</text><text transform="translate(1783 1601.5) rotate(-90)">L49-</text><text transform="translate(1839.4 1601.5) rotate(-90)">L50-</text><text transform="translate(1917.1 1601.5) rotate(-90)">L51-</text></g>
</g>
<g class="b" font-size="27"><text x="0.3" y="19.8">A</text><text x="1114.5" y="19.8">B</text><text x="-0.3" y="1224.8">C</text></g>
</svg></body></html>
